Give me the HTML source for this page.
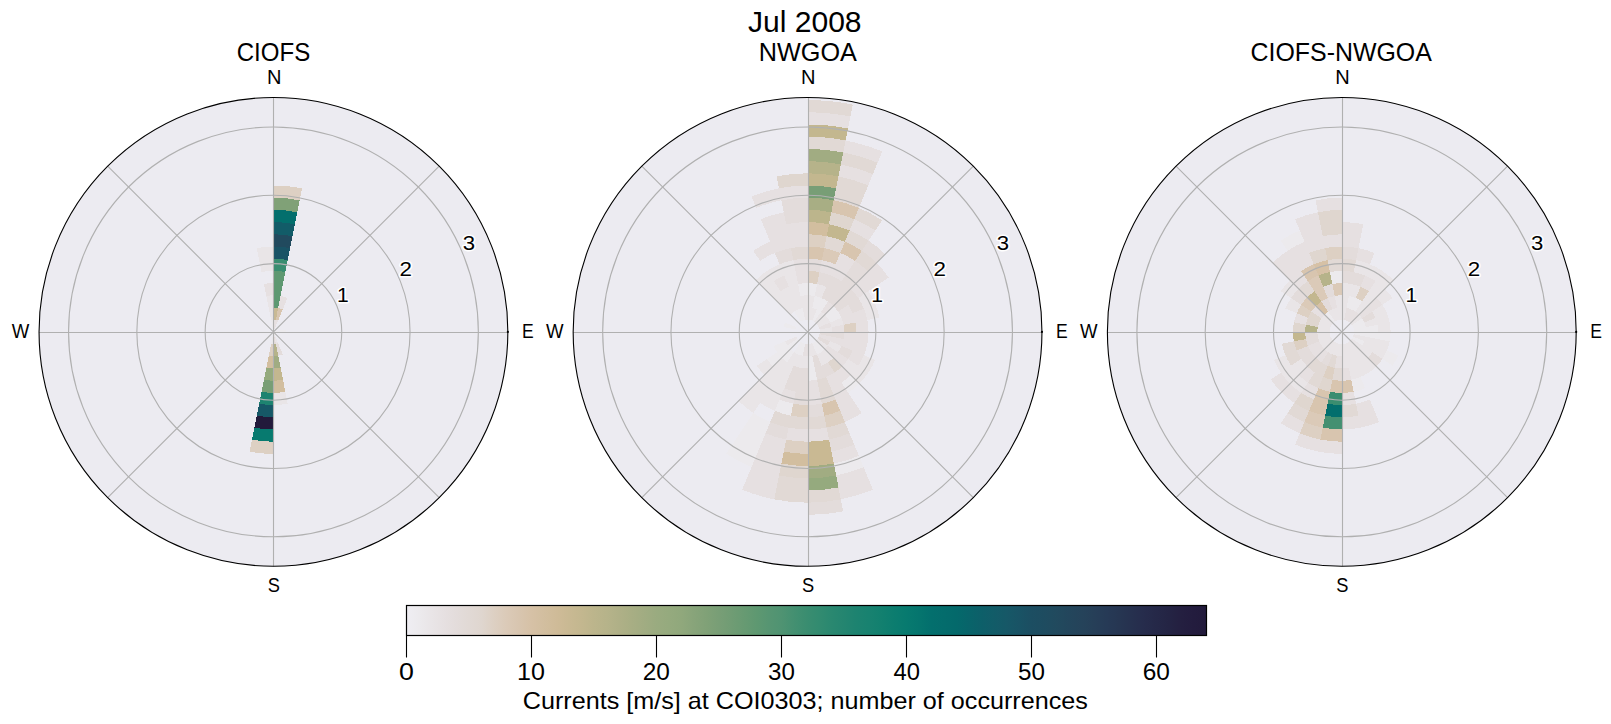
<!DOCTYPE html><html><head><meta charset="utf-8"><style>html,body{margin:0;padding:0;background:#fff;overflow:hidden}svg{display:block}</style></head><body><svg width="1611" height="724" viewBox="0 0 1611 724"><rect width="1611" height="724" fill="#fff"/><defs><clipPath id="c0"><circle cx="273.45" cy="331.9" r="234.4"/></clipPath><clipPath id="c1"><circle cx="807.56" cy="331.9" r="234.4"/></clipPath><clipPath id="c2"><circle cx="1341.8" cy="331.9" r="234.4"/></clipPath></defs><circle cx="273.45" cy="331.9" r="234.4" fill="#ecebf1"/><g clip-path="url(#c0)" shape-rendering="crispEdges"><path d="M273.45,331.90L273.45,319.70A12.20,12.20 0 0 1 275.83,319.93Z" fill="#e6e0e1"/><path d="M273.45,319.70L273.45,307.50A24.40,24.40 0 0 1 278.21,307.97L275.83,319.93A12.20,12.20 0 0 0 273.45,319.70Z" fill="#c9b993"/><path d="M273.45,307.50L273.45,295.30A36.60,36.60 0 0 1 280.59,296.00L278.21,307.97A24.40,24.40 0 0 0 273.45,307.50Z" fill="#5e9871"/><path d="M273.45,295.30L273.45,283.10A48.80,48.80 0 0 1 282.97,284.04L280.59,296.00A36.60,36.60 0 0 0 273.45,295.30Z" fill="#5e9871"/><path d="M273.45,283.10L273.45,270.90A61.00,61.00 0 0 1 285.35,272.07L282.97,284.04A48.80,48.80 0 0 0 273.45,283.10Z" fill="#5e9871"/><path d="M273.45,270.90L273.45,258.70A73.20,73.20 0 0 1 287.73,260.11L285.35,272.07A61.00,61.00 0 0 0 273.45,270.90Z" fill="#3a8d70"/><path d="M273.45,258.70L273.45,246.50A85.40,85.40 0 0 1 290.11,248.14L287.73,260.11A73.20,73.20 0 0 0 273.45,258.70Z" fill="#195365"/><path d="M273.45,246.50L273.45,234.30A97.60,97.60 0 0 1 292.49,236.18L290.11,248.14A85.40,85.40 0 0 0 273.45,246.50Z" fill="#214a5e"/><path d="M273.45,234.30L273.45,222.10A109.80,109.80 0 0 1 294.87,224.21L292.49,236.18A97.60,97.60 0 0 0 273.45,234.30Z" fill="#125c68"/><path d="M273.45,222.10L273.45,209.90A122.00,122.00 0 0 1 297.25,212.24L294.87,224.21A109.80,109.80 0 0 0 273.45,222.10Z" fill="#036f6d"/><path d="M273.45,209.90L273.45,197.70A134.20,134.20 0 0 1 299.63,200.28L297.25,212.24A122.00,122.00 0 0 0 273.45,209.90Z" fill="#80a177"/><path d="M273.45,197.70L273.45,185.50A146.40,146.40 0 0 1 302.01,188.31L299.63,200.28A134.20,134.20 0 0 0 273.45,197.70Z" fill="#ddd0c3"/><path d="M273.45,331.90L275.83,319.93A12.20,12.20 0 0 1 278.12,320.63Z" fill="#e6e0e1"/><path d="M275.83,319.93L278.21,307.97A24.40,24.40 0 0 1 282.79,309.36L278.12,320.63A12.20,12.20 0 0 0 275.83,319.93Z" fill="#d8c5af"/><path d="M278.21,307.97L280.59,296.00A36.60,36.60 0 0 1 287.46,298.09L282.79,309.36A24.40,24.40 0 0 0 278.21,307.97Z" fill="#e6e0e1"/><path d="M273.45,331.90L271.07,319.93A12.20,12.20 0 0 1 273.45,319.70Z" fill="#eceaed"/><path d="M271.07,319.93L268.69,307.97A24.40,24.40 0 0 1 273.45,307.50L273.45,319.70A12.20,12.20 0 0 0 271.07,319.93Z" fill="#e9e5e7"/><path d="M268.69,307.97L266.31,296.00A36.60,36.60 0 0 1 273.45,295.30L273.45,307.50A24.40,24.40 0 0 0 268.69,307.97Z" fill="#e9e5e7"/><path d="M266.31,296.00L263.93,284.04A48.80,48.80 0 0 1 273.45,283.10L273.45,295.30A36.60,36.60 0 0 0 266.31,296.00Z" fill="#e6e0e1"/><path d="M261.55,272.07L259.17,260.11A73.20,73.20 0 0 1 273.45,258.70L273.45,270.90A61.00,61.00 0 0 0 261.55,272.07Z" fill="#e9e5e7"/><path d="M259.17,260.11L256.79,248.14A85.40,85.40 0 0 1 273.45,246.50L273.45,258.70A73.20,73.20 0 0 0 259.17,260.11Z" fill="#e9e5e7"/><path d="M273.45,331.90L273.45,344.10A12.20,12.20 0 0 1 271.07,343.87Z" fill="#eceaed"/><path d="M273.45,344.10L273.45,356.30A24.40,24.40 0 0 1 268.69,355.83L271.07,343.87A12.20,12.20 0 0 0 273.45,344.10Z" fill="#ddd0c3"/><path d="M273.45,356.30L273.45,368.50A36.60,36.60 0 0 1 266.31,367.80L268.69,355.83A24.40,24.40 0 0 0 273.45,356.30Z" fill="#d2be9f"/><path d="M273.45,368.50L273.45,380.70A48.80,48.80 0 0 1 263.93,379.76L266.31,367.80A36.60,36.60 0 0 0 273.45,368.50Z" fill="#95aa7e"/><path d="M273.45,380.70L273.45,392.90A61.00,61.00 0 0 1 261.55,391.73L263.93,379.76A48.80,48.80 0 0 0 273.45,380.70Z" fill="#789e76"/><path d="M273.45,392.90L273.45,405.10A73.20,73.20 0 0 1 259.17,403.69L261.55,391.73A61.00,61.00 0 0 0 273.45,392.90Z" fill="#1d8370"/><path d="M273.45,405.10L273.45,417.30A85.40,85.40 0 0 1 256.79,415.66L259.17,403.69A73.20,73.20 0 0 0 273.45,405.10Z" fill="#165867"/><path d="M273.45,417.30L273.45,429.50A97.60,97.60 0 0 1 254.41,427.62L256.79,415.66A85.40,85.40 0 0 0 273.45,417.30Z" fill="#221a3b"/><path d="M273.45,429.50L273.45,441.70A109.80,109.80 0 0 1 252.03,439.59L254.41,427.62A97.60,97.60 0 0 0 273.45,429.50Z" fill="#077a6f"/><path d="M273.45,441.70L273.45,453.90A122.00,122.00 0 0 1 249.65,451.56L252.03,439.59A109.80,109.80 0 0 0 273.45,441.70Z" fill="#ddd0c3"/><path d="M273.45,331.90L275.83,343.87A12.20,12.20 0 0 1 273.45,344.10Z" fill="#e3dcdb"/><path d="M275.83,343.87L278.21,355.83A24.40,24.40 0 0 1 273.45,356.30L273.45,344.10A12.20,12.20 0 0 0 275.83,343.87Z" fill="#b6b38a"/><path d="M278.21,355.83L280.59,367.80A36.60,36.60 0 0 1 273.45,368.50L273.45,356.30A24.40,24.40 0 0 0 278.21,355.83Z" fill="#a1ac82"/><path d="M280.59,367.80L282.97,379.76A48.80,48.80 0 0 1 273.45,380.70L273.45,368.50A36.60,36.60 0 0 0 280.59,367.80Z" fill="#c3b78f"/><path d="M282.97,379.76L285.35,391.73A61.00,61.00 0 0 1 273.45,392.90L273.45,380.70A48.80,48.80 0 0 0 282.97,379.76Z" fill="#d2be9f"/><path d="M285.35,391.73L287.73,403.69A73.20,73.20 0 0 1 273.45,405.10L273.45,392.90A61.00,61.00 0 0 0 285.35,391.73Z" fill="#e9e5e7"/><path d="M273.45,331.90L278.12,343.17A12.20,12.20 0 0 1 275.83,343.87Z" fill="#e9e5e7"/><path d="M278.12,343.17L282.79,354.44A24.40,24.40 0 0 1 278.21,355.83L275.83,343.87A12.20,12.20 0 0 0 278.12,343.17Z" fill="#e3dcdb"/><path d="M273.45,331.90L285.42,329.52A12.20,12.20 0 0 1 285.65,331.90Z" fill="#eceaed"/></g><path d="M39.05,332.5H507.85M273.5,97.50V566.30M107.70,166.15L439.20,497.65M439.20,166.15L107.70,497.65" stroke="#b0b0b0" stroke-width="1.1" fill="none"/><circle cx="273.45" cy="331.9" r="68.30" stroke="#b0b0b0" stroke-width="1.1" fill="none"/><circle cx="273.45" cy="331.9" r="136.60" stroke="#b0b0b0" stroke-width="1.1" fill="none"/><circle cx="273.45" cy="331.9" r="204.90" stroke="#b0b0b0" stroke-width="1.1" fill="none"/><circle cx="273.45" cy="331.9" r="234.4" stroke="#000" stroke-width="1.1" fill="none"/><circle cx="507.85" cy="331.9" r="1.1" fill="#000"/><circle cx="807.56" cy="331.9" r="234.4" fill="#ecebf1"/><g clip-path="url(#c1)" shape-rendering="crispEdges"><path d="M807.56,258.70L807.56,246.50A85.40,85.40 0 0 1 824.22,248.14L821.84,260.11A73.20,73.20 0 0 0 807.56,258.70Z" fill="#d8c5af"/><path d="M807.56,246.50L807.56,234.30A97.60,97.60 0 0 1 826.60,236.18L824.22,248.14A85.40,85.40 0 0 0 807.56,246.50Z" fill="#ddd0c3"/><path d="M807.56,234.30L807.56,222.10A109.80,109.80 0 0 1 828.98,224.21L826.60,236.18A97.60,97.60 0 0 0 807.56,234.30Z" fill="#d2be9f"/><path d="M807.56,222.10L807.56,209.90A122.00,122.00 0 0 1 831.36,212.24L828.98,224.21A109.80,109.80 0 0 0 807.56,222.10Z" fill="#bcb58c"/><path d="M807.56,209.90L807.56,197.70A134.20,134.20 0 0 1 833.74,200.28L831.36,212.24A122.00,122.00 0 0 0 807.56,209.90Z" fill="#a8ae84"/><path d="M807.56,197.70L807.56,185.50A146.40,146.40 0 0 1 836.12,188.31L833.74,200.28A134.20,134.20 0 0 0 807.56,197.70Z" fill="#789e76"/><path d="M807.56,185.50L807.56,173.30A158.60,158.60 0 0 1 838.50,176.35L836.12,188.31A146.40,146.40 0 0 0 807.56,185.50Z" fill="#c3b78f"/><path d="M807.56,173.30L807.56,161.10A170.80,170.80 0 0 1 840.88,164.38L838.50,176.35A158.60,158.60 0 0 0 807.56,173.30Z" fill="#b6b38a"/><path d="M807.56,161.10L807.56,148.90A183.00,183.00 0 0 1 843.26,152.42L840.88,164.38A170.80,170.80 0 0 0 807.56,161.10Z" fill="#a1ac82"/><path d="M807.56,148.90L807.56,136.70A195.20,195.20 0 0 1 845.64,140.45L843.26,152.42A183.00,183.00 0 0 0 807.56,148.90Z" fill="#e1d9d5"/><path d="M807.56,136.70L807.56,124.50A207.40,207.40 0 0 1 848.02,128.49L845.64,140.45A195.20,195.20 0 0 0 807.56,136.70Z" fill="#c3b78f"/><path d="M807.56,124.50L807.56,112.30A219.60,219.60 0 0 1 850.40,116.52L848.02,128.49A207.40,207.40 0 0 0 807.56,124.50Z" fill="#e6e0e1"/><path d="M807.56,112.30L807.56,100.10A231.80,231.80 0 0 1 852.78,104.55L850.40,116.52A219.60,219.60 0 0 0 807.56,112.30Z" fill="#e1d9d5"/><path d="M807.56,331.90L807.56,319.70A12.20,12.20 0 0 1 809.94,319.93Z" fill="#eceaed"/><path d="M807.56,319.70L807.56,307.50A24.40,24.40 0 0 1 812.32,307.97L809.94,319.93A12.20,12.20 0 0 0 807.56,319.70Z" fill="#e9e5e7"/><path d="M807.56,307.50L807.56,295.30A36.60,36.60 0 0 1 814.70,296.00L812.32,307.97A24.40,24.40 0 0 0 807.56,307.50Z" fill="#e9e5e7"/><path d="M807.56,295.30L807.56,283.10A48.80,48.80 0 0 1 817.08,284.04L814.70,296.00A36.60,36.60 0 0 0 807.56,295.30Z" fill="#eceaed"/><path d="M807.56,283.10L807.56,270.90A61.00,61.00 0 0 1 819.46,272.07L817.08,284.04A48.80,48.80 0 0 0 807.56,283.10Z" fill="#ddd0c3"/><path d="M807.56,270.90L807.56,258.70A73.20,73.20 0 0 1 821.84,260.11L819.46,272.07A61.00,61.00 0 0 0 807.56,270.90Z" fill="#e3dcdb"/><path d="M821.84,260.11L824.22,248.14A85.40,85.40 0 0 1 840.24,253.00L835.57,264.27A73.20,73.20 0 0 0 821.84,260.11Z" fill="#dbcab8"/><path d="M824.22,248.14L826.60,236.18A97.60,97.60 0 0 1 844.91,241.73L840.24,253.00A85.40,85.40 0 0 0 824.22,248.14Z" fill="#e1d9d5"/><path d="M826.60,236.18L828.98,224.21A109.80,109.80 0 0 1 849.58,230.46L844.91,241.73A97.60,97.60 0 0 0 826.60,236.18Z" fill="#c3b78f"/><path d="M828.98,224.21L831.36,212.24A122.00,122.00 0 0 1 854.25,219.19L849.58,230.46A109.80,109.80 0 0 0 828.98,224.21Z" fill="#dfd6cf"/><path d="M831.36,212.24L833.74,200.28A134.20,134.20 0 0 1 858.92,207.92L854.25,219.19A122.00,122.00 0 0 0 831.36,212.24Z" fill="#d8c5af"/><path d="M833.74,200.28L836.12,188.31A146.40,146.40 0 0 1 863.58,196.64L858.92,207.92A134.20,134.20 0 0 0 833.74,200.28Z" fill="#e1d9d5"/><path d="M836.12,188.31L838.50,176.35A158.60,158.60 0 0 1 868.25,185.37L863.58,196.64A146.40,146.40 0 0 0 836.12,188.31Z" fill="#e1d9d5"/><path d="M838.50,176.35L840.88,164.38A170.80,170.80 0 0 1 872.92,174.10L868.25,185.37A158.60,158.60 0 0 0 838.50,176.35Z" fill="#e6e0e1"/><path d="M840.88,164.38L843.26,152.42A183.00,183.00 0 0 1 877.59,162.83L872.92,174.10A170.80,170.80 0 0 0 840.88,164.38Z" fill="#e1d9d5"/><path d="M843.26,152.42L845.64,140.45A195.20,195.20 0 0 1 882.26,151.56L877.59,162.83A183.00,183.00 0 0 0 843.26,152.42Z" fill="#e6e0e1"/><path d="M809.94,319.93L812.32,307.97A24.40,24.40 0 0 1 816.90,309.36L812.23,320.63A12.20,12.20 0 0 0 809.94,319.93Z" fill="#e9e5e7"/><path d="M812.32,307.97L814.70,296.00A36.60,36.60 0 0 1 821.57,298.09L816.90,309.36A24.40,24.40 0 0 0 812.32,307.97Z" fill="#eceaed"/><path d="M814.70,296.00L817.08,284.04A48.80,48.80 0 0 1 826.23,286.81L821.57,298.09A36.60,36.60 0 0 0 814.70,296.00Z" fill="#e9e5e7"/><path d="M817.08,284.04L819.46,272.07A61.00,61.00 0 0 1 830.90,275.54L826.23,286.81A48.80,48.80 0 0 0 817.08,284.04Z" fill="#e3dcdb"/><path d="M819.46,272.07L821.84,260.11A73.20,73.20 0 0 1 835.57,264.27L830.90,275.54A61.00,61.00 0 0 0 819.46,272.07Z" fill="#e6e0e1"/><path d="M835.57,264.27L840.24,253.00A85.40,85.40 0 0 1 855.01,260.89L848.23,271.04A73.20,73.20 0 0 0 835.57,264.27Z" fill="#e6e0e1"/><path d="M840.24,253.00L844.91,241.73A97.60,97.60 0 0 1 861.78,250.75L855.01,260.89A85.40,85.40 0 0 0 840.24,253.00Z" fill="#d8c5af"/><path d="M844.91,241.73L849.58,230.46A109.80,109.80 0 0 1 868.56,240.60L861.78,250.75A97.60,97.60 0 0 0 844.91,241.73Z" fill="#e1d9d5"/><path d="M849.58,230.46L854.25,219.19A122.00,122.00 0 0 1 875.34,230.46L868.56,240.60A109.80,109.80 0 0 0 849.58,230.46Z" fill="#e6e0e1"/><path d="M854.25,219.19L858.92,207.92A134.20,134.20 0 0 1 882.12,220.32L875.34,230.46A122.00,122.00 0 0 0 854.25,219.19Z" fill="#e1d9d5"/><path d="M812.23,320.63L816.90,309.36A24.40,24.40 0 0 1 821.12,311.61L814.34,321.76A12.20,12.20 0 0 0 812.23,320.63Z" fill="#eceaed"/><path d="M816.90,309.36L821.57,298.09A36.60,36.60 0 0 1 827.89,301.47L821.12,311.61A24.40,24.40 0 0 0 816.90,309.36Z" fill="#eceaed"/><path d="M821.57,298.09L826.23,286.81A48.80,48.80 0 0 1 834.67,291.32L827.89,301.47A36.60,36.60 0 0 0 821.57,298.09Z" fill="#e3dcdb"/><path d="M826.23,286.81L830.90,275.54A61.00,61.00 0 0 1 841.45,281.18L834.67,291.32A48.80,48.80 0 0 0 826.23,286.81Z" fill="#e3dcdb"/><path d="M830.90,275.54L835.57,264.27A73.20,73.20 0 0 1 848.23,271.04L841.45,281.18A61.00,61.00 0 0 0 830.90,275.54Z" fill="#e6e0e1"/><path d="M848.23,271.04L855.01,260.89A85.40,85.40 0 0 1 867.95,271.51L859.32,280.14A73.20,73.20 0 0 0 848.23,271.04Z" fill="#e3dcdb"/><path d="M855.01,260.89L861.78,250.75A97.60,97.60 0 0 1 876.57,262.89L867.95,271.51A85.40,85.40 0 0 0 855.01,260.89Z" fill="#e1d9d5"/><path d="M861.78,250.75L868.56,240.60A109.80,109.80 0 0 1 885.20,254.26L876.57,262.89A97.60,97.60 0 0 0 861.78,250.75Z" fill="#e3dcdb"/><path d="M814.34,321.76L821.12,311.61A24.40,24.40 0 0 1 824.81,314.65L816.19,323.27A12.20,12.20 0 0 0 814.34,321.76Z" fill="#e9e5e7"/><path d="M821.12,311.61L827.89,301.47A36.60,36.60 0 0 1 833.44,306.02L824.81,314.65A24.40,24.40 0 0 0 821.12,311.61Z" fill="#e6e0e1"/><path d="M827.89,301.47L834.67,291.32A48.80,48.80 0 0 1 842.07,297.39L833.44,306.02A36.60,36.60 0 0 0 827.89,301.47Z" fill="#e3dcdb"/><path d="M834.67,291.32L841.45,281.18A61.00,61.00 0 0 1 850.69,288.77L842.07,297.39A48.80,48.80 0 0 0 834.67,291.32Z" fill="#e3dcdb"/><path d="M841.45,281.18L848.23,271.04A73.20,73.20 0 0 1 859.32,280.14L850.69,288.77A61.00,61.00 0 0 0 841.45,281.18Z" fill="#e3dcdb"/><path d="M859.32,280.14L867.95,271.51A85.40,85.40 0 0 1 878.57,284.45L868.42,291.23A73.20,73.20 0 0 0 859.32,280.14Z" fill="#e6e0e1"/><path d="M867.95,271.51L876.57,262.89A97.60,97.60 0 0 1 888.71,277.68L878.57,284.45A85.40,85.40 0 0 0 867.95,271.51Z" fill="#e6e0e1"/><path d="M816.19,323.27L824.81,314.65A24.40,24.40 0 0 1 827.85,318.34L817.70,325.12A12.20,12.20 0 0 0 816.19,323.27Z" fill="#e9e5e7"/><path d="M824.81,314.65L833.44,306.02A36.60,36.60 0 0 1 837.99,311.57L827.85,318.34A24.40,24.40 0 0 0 824.81,314.65Z" fill="#eceaed"/><path d="M833.44,306.02L842.07,297.39A48.80,48.80 0 0 1 848.14,304.79L837.99,311.57A36.60,36.60 0 0 0 833.44,306.02Z" fill="#e3dcdb"/><path d="M842.07,297.39L850.69,288.77A61.00,61.00 0 0 1 858.28,298.01L848.14,304.79A48.80,48.80 0 0 0 842.07,297.39Z" fill="#e3dcdb"/><path d="M850.69,288.77L859.32,280.14A73.20,73.20 0 0 1 868.42,291.23L858.28,298.01A61.00,61.00 0 0 0 850.69,288.77Z" fill="#e6e0e1"/><path d="M817.70,325.12L827.85,318.34A24.40,24.40 0 0 1 830.10,322.56L818.83,327.23A12.20,12.20 0 0 0 817.70,325.12Z" fill="#e9e5e7"/><path d="M827.85,318.34L837.99,311.57A36.60,36.60 0 0 1 841.37,317.89L830.10,322.56A24.40,24.40 0 0 0 827.85,318.34Z" fill="#eceaed"/><path d="M837.99,311.57L848.14,304.79A48.80,48.80 0 0 1 852.65,313.23L841.37,317.89A36.60,36.60 0 0 0 837.99,311.57Z" fill="#e6e0e1"/><path d="M848.14,304.79L858.28,298.01A61.00,61.00 0 0 1 863.92,308.56L852.65,313.23A48.80,48.80 0 0 0 848.14,304.79Z" fill="#e3dcdb"/><path d="M858.28,298.01L868.42,291.23A73.20,73.20 0 0 1 875.19,303.89L863.92,308.56A61.00,61.00 0 0 0 858.28,298.01Z" fill="#e9e5e7"/><path d="M818.83,327.23L830.10,322.56A24.40,24.40 0 0 1 831.49,327.14L819.53,329.52A12.20,12.20 0 0 0 818.83,327.23Z" fill="#e6e0e1"/><path d="M830.10,322.56L841.37,317.89A36.60,36.60 0 0 1 843.46,324.76L831.49,327.14A24.40,24.40 0 0 0 830.10,322.56Z" fill="#e9e5e7"/><path d="M841.37,317.89L852.65,313.23A48.80,48.80 0 0 1 855.42,322.38L843.46,324.76A36.60,36.60 0 0 0 841.37,317.89Z" fill="#e6e0e1"/><path d="M852.65,313.23L863.92,308.56A61.00,61.00 0 0 1 867.39,320.00L855.42,322.38A48.80,48.80 0 0 0 852.65,313.23Z" fill="#e6e0e1"/><path d="M863.92,308.56L875.19,303.89A73.20,73.20 0 0 1 879.35,317.62L867.39,320.00A61.00,61.00 0 0 0 863.92,308.56Z" fill="#e9e5e7"/><path d="M819.53,329.52L831.49,327.14A24.40,24.40 0 0 1 831.96,331.90L819.76,331.90A12.20,12.20 0 0 0 819.53,329.52Z" fill="#e9e5e7"/><path d="M831.49,327.14L843.46,324.76A36.60,36.60 0 0 1 844.16,331.90L831.96,331.90A24.40,24.40 0 0 0 831.49,327.14Z" fill="#e6e0e1"/><path d="M843.46,324.76L855.42,322.38A48.80,48.80 0 0 1 856.36,331.90L844.16,331.90A36.60,36.60 0 0 0 843.46,324.76Z" fill="#ddd0c3"/><path d="M855.42,322.38L867.39,320.00A61.00,61.00 0 0 1 868.56,331.90L856.36,331.90A48.80,48.80 0 0 0 855.42,322.38Z" fill="#e6e0e1"/><path d="M819.76,331.90L831.96,331.90A24.40,24.40 0 0 1 831.49,336.66L819.53,334.28A12.20,12.20 0 0 0 819.76,331.90Z" fill="#e3dcdb"/><path d="M831.96,331.90L844.16,331.90A36.60,36.60 0 0 1 843.46,339.04L831.49,336.66A24.40,24.40 0 0 0 831.96,331.90Z" fill="#e3dcdb"/><path d="M844.16,331.90L856.36,331.90A48.80,48.80 0 0 1 855.42,341.42L843.46,339.04A36.60,36.60 0 0 0 844.16,331.90Z" fill="#e6e0e1"/><path d="M856.36,331.90L868.56,331.90A61.00,61.00 0 0 1 867.39,343.80L855.42,341.42A48.80,48.80 0 0 0 856.36,331.90Z" fill="#e6e0e1"/><path d="M819.53,334.28L831.49,336.66A24.40,24.40 0 0 1 830.10,341.24L818.83,336.57A12.20,12.20 0 0 0 819.53,334.28Z" fill="#e6e0e1"/><path d="M831.49,336.66L843.46,339.04A36.60,36.60 0 0 1 841.37,345.91L830.10,341.24A24.40,24.40 0 0 0 831.49,336.66Z" fill="#e6e0e1"/><path d="M843.46,339.04L855.42,341.42A48.80,48.80 0 0 1 852.65,350.57L841.37,345.91A36.60,36.60 0 0 0 843.46,339.04Z" fill="#e6e0e1"/><path d="M855.42,341.42L867.39,343.80A61.00,61.00 0 0 1 863.92,355.24L852.65,350.57A48.80,48.80 0 0 0 855.42,341.42Z" fill="#e6e0e1"/><path d="M818.83,336.57L830.10,341.24A24.40,24.40 0 0 1 827.85,345.46L817.70,338.68A12.20,12.20 0 0 0 818.83,336.57Z" fill="#e3dcdb"/><path d="M830.10,341.24L841.37,345.91A36.60,36.60 0 0 1 837.99,352.23L827.85,345.46A24.40,24.40 0 0 0 830.10,341.24Z" fill="#e9e5e7"/><path d="M841.37,345.91L852.65,350.57A48.80,48.80 0 0 1 848.14,359.01L837.99,352.23A36.60,36.60 0 0 0 841.37,345.91Z" fill="#e3dcdb"/><path d="M852.65,350.57L863.92,355.24A61.00,61.00 0 0 1 858.28,365.79L848.14,359.01A48.80,48.80 0 0 0 852.65,350.57Z" fill="#e6e0e1"/><path d="M863.92,355.24L875.19,359.91A73.20,73.20 0 0 1 868.42,372.57L858.28,365.79A61.00,61.00 0 0 0 863.92,355.24Z" fill="#e9e5e7"/><path d="M817.70,338.68L827.85,345.46A24.40,24.40 0 0 1 824.81,349.15L816.19,340.53A12.20,12.20 0 0 0 817.70,338.68Z" fill="#e9e5e7"/><path d="M827.85,345.46L837.99,352.23A36.60,36.60 0 0 1 833.44,357.78L824.81,349.15A24.40,24.40 0 0 0 827.85,345.46Z" fill="#e6e0e1"/><path d="M837.99,352.23L848.14,359.01A48.80,48.80 0 0 1 842.07,366.41L833.44,357.78A36.60,36.60 0 0 0 837.99,352.23Z" fill="#e6e0e1"/><path d="M848.14,359.01L858.28,365.79A61.00,61.00 0 0 1 850.69,375.03L842.07,366.41A48.80,48.80 0 0 0 848.14,359.01Z" fill="#e9e5e7"/><path d="M858.28,365.79L868.42,372.57A73.20,73.20 0 0 1 859.32,383.66L850.69,375.03A61.00,61.00 0 0 0 858.28,365.79Z" fill="#e9e5e7"/><path d="M816.19,340.53L824.81,349.15A24.40,24.40 0 0 1 821.12,352.19L814.34,342.04A12.20,12.20 0 0 0 816.19,340.53Z" fill="#eceaed"/><path d="M824.81,349.15L833.44,357.78A36.60,36.60 0 0 1 827.89,362.33L821.12,352.19A24.40,24.40 0 0 0 824.81,349.15Z" fill="#e9e5e7"/><path d="M833.44,357.78L842.07,366.41A48.80,48.80 0 0 1 834.67,372.48L827.89,362.33A36.60,36.60 0 0 0 833.44,357.78Z" fill="#dfd6cf"/><path d="M842.07,366.41L850.69,375.03A61.00,61.00 0 0 1 841.45,382.62L834.67,372.48A48.80,48.80 0 0 0 842.07,366.41Z" fill="#e6e0e1"/><path d="M850.69,375.03L859.32,383.66A73.20,73.20 0 0 1 848.23,392.76L841.45,382.62A61.00,61.00 0 0 0 850.69,375.03Z" fill="#eceaed"/><path d="M848.23,392.76L855.01,402.91A85.40,85.40 0 0 1 840.24,410.80L835.57,399.53A73.20,73.20 0 0 0 848.23,392.76Z" fill="#e6e0e1"/><path d="M855.01,402.91L861.78,413.05A97.60,97.60 0 0 1 844.91,422.07L840.24,410.80A85.40,85.40 0 0 0 855.01,402.91Z" fill="#e6e0e1"/><path d="M814.34,342.04L821.12,352.19A24.40,24.40 0 0 1 816.90,354.44L812.23,343.17A12.20,12.20 0 0 0 814.34,342.04Z" fill="#eceaed"/><path d="M821.12,352.19L827.89,362.33A36.60,36.60 0 0 1 821.57,365.71L816.90,354.44A24.40,24.40 0 0 0 821.12,352.19Z" fill="#e9e5e7"/><path d="M827.89,362.33L834.67,372.48A48.80,48.80 0 0 1 826.23,376.99L821.57,365.71A36.60,36.60 0 0 0 827.89,362.33Z" fill="#e3dcdb"/><path d="M834.67,372.48L841.45,382.62A61.00,61.00 0 0 1 830.90,388.26L826.23,376.99A48.80,48.80 0 0 0 834.67,372.48Z" fill="#e6e0e1"/><path d="M841.45,382.62L848.23,392.76A73.20,73.20 0 0 1 835.57,399.53L830.90,388.26A61.00,61.00 0 0 0 841.45,382.62Z" fill="#e6e0e1"/><path d="M835.57,399.53L840.24,410.80A85.40,85.40 0 0 1 824.22,415.66L821.84,403.69A73.20,73.20 0 0 0 835.57,399.53Z" fill="#d8c5af"/><path d="M840.24,410.80L844.91,422.07A97.60,97.60 0 0 1 826.60,427.62L824.22,415.66A85.40,85.40 0 0 0 840.24,410.80Z" fill="#ddd0c3"/><path d="M844.91,422.07L849.58,433.34A109.80,109.80 0 0 1 828.98,439.59L826.60,427.62A97.60,97.60 0 0 0 844.91,422.07Z" fill="#e1d9d5"/><path d="M849.58,433.34L854.25,444.61A122.00,122.00 0 0 1 831.36,451.56L828.98,439.59A109.80,109.80 0 0 0 849.58,433.34Z" fill="#e3dcdb"/><path d="M854.25,444.61L858.92,455.88A134.20,134.20 0 0 1 833.74,463.52L831.36,451.56A122.00,122.00 0 0 0 854.25,444.61Z" fill="#e6e0e1"/><path d="M858.92,455.88L863.58,467.16A146.40,146.40 0 0 1 836.12,475.49L833.74,463.52A134.20,134.20 0 0 0 858.92,455.88Z" fill="#eceaed"/><path d="M863.58,467.16L868.25,478.43A158.60,158.60 0 0 1 838.50,487.45L836.12,475.49A146.40,146.40 0 0 0 863.58,467.16Z" fill="#e6e0e1"/><path d="M868.25,478.43L872.92,489.70A170.80,170.80 0 0 1 840.88,499.42L838.50,487.45A158.60,158.60 0 0 0 868.25,478.43Z" fill="#e6e0e1"/><path d="M812.23,343.17L816.90,354.44A24.40,24.40 0 0 1 812.32,355.83L809.94,343.87A12.20,12.20 0 0 0 812.23,343.17Z" fill="#e9e5e7"/><path d="M816.90,354.44L821.57,365.71A36.60,36.60 0 0 1 814.70,367.80L812.32,355.83A24.40,24.40 0 0 0 816.90,354.44Z" fill="#e3dcdb"/><path d="M821.57,365.71L826.23,376.99A48.80,48.80 0 0 1 817.08,379.76L814.70,367.80A36.60,36.60 0 0 0 821.57,365.71Z" fill="#e3dcdb"/><path d="M826.23,376.99L830.90,388.26A61.00,61.00 0 0 1 819.46,391.73L817.08,379.76A48.80,48.80 0 0 0 826.23,376.99Z" fill="#e1d9d5"/><path d="M830.90,388.26L835.57,399.53A73.20,73.20 0 0 1 821.84,403.69L819.46,391.73A61.00,61.00 0 0 0 830.90,388.26Z" fill="#e1d9d5"/><path d="M821.84,403.69L824.22,415.66A85.40,85.40 0 0 1 807.56,417.30L807.56,405.10A73.20,73.20 0 0 0 821.84,403.69Z" fill="#e3dcdb"/><path d="M824.22,415.66L826.60,427.62A97.60,97.60 0 0 1 807.56,429.50L807.56,417.30A85.40,85.40 0 0 0 824.22,415.66Z" fill="#e1d9d5"/><path d="M826.60,427.62L828.98,439.59A109.80,109.80 0 0 1 807.56,441.70L807.56,429.50A97.60,97.60 0 0 0 826.60,427.62Z" fill="#e6e0e1"/><path d="M828.98,439.59L831.36,451.56A122.00,122.00 0 0 1 807.56,453.90L807.56,441.70A109.80,109.80 0 0 0 828.98,439.59Z" fill="#c9b993"/><path d="M831.36,451.56L833.74,463.52A134.20,134.20 0 0 1 807.56,466.10L807.56,453.90A122.00,122.00 0 0 0 831.36,451.56Z" fill="#c9b993"/><path d="M833.74,463.52L836.12,475.49A146.40,146.40 0 0 1 807.56,478.30L807.56,466.10A134.20,134.20 0 0 0 833.74,463.52Z" fill="#a1ac82"/><path d="M836.12,475.49L838.50,487.45A158.60,158.60 0 0 1 807.56,490.50L807.56,478.30A146.40,146.40 0 0 0 836.12,475.49Z" fill="#95aa7e"/><path d="M838.50,487.45L840.88,499.42A170.80,170.80 0 0 1 807.56,502.70L807.56,490.50A158.60,158.60 0 0 0 838.50,487.45Z" fill="#e1d9d5"/><path d="M840.88,499.42L843.26,511.38A183.00,183.00 0 0 1 807.56,514.90L807.56,502.70A170.80,170.80 0 0 0 840.88,499.42Z" fill="#e3dcdb"/><path d="M809.94,343.87L812.32,355.83A24.40,24.40 0 0 1 807.56,356.30L807.56,344.10A12.20,12.20 0 0 0 809.94,343.87Z" fill="#e9e5e7"/><path d="M812.32,355.83L814.70,367.80A36.60,36.60 0 0 1 807.56,368.50L807.56,356.30A24.40,24.40 0 0 0 812.32,355.83Z" fill="#eceaed"/><path d="M814.70,367.80L817.08,379.76A48.80,48.80 0 0 1 807.56,380.70L807.56,368.50A36.60,36.60 0 0 0 814.70,367.80Z" fill="#eceaed"/><path d="M817.08,379.76L819.46,391.73A61.00,61.00 0 0 1 807.56,392.90L807.56,380.70A48.80,48.80 0 0 0 817.08,379.76Z" fill="#e6e0e1"/><path d="M819.46,391.73L821.84,403.69A73.20,73.20 0 0 1 807.56,405.10L807.56,392.90A61.00,61.00 0 0 0 819.46,391.73Z" fill="#e6e0e1"/><path d="M807.56,405.10L807.56,417.30A85.40,85.40 0 0 1 790.90,415.66L793.28,403.69A73.20,73.20 0 0 0 807.56,405.10Z" fill="#ddd0c3"/><path d="M807.56,417.30L807.56,429.50A97.60,97.60 0 0 1 788.52,427.62L790.90,415.66A85.40,85.40 0 0 0 807.56,417.30Z" fill="#e1d9d5"/><path d="M807.56,429.50L807.56,441.70A109.80,109.80 0 0 1 786.14,439.59L788.52,427.62A97.60,97.60 0 0 0 807.56,429.50Z" fill="#e6e0e1"/><path d="M807.56,441.70L807.56,453.90A122.00,122.00 0 0 1 783.76,451.56L786.14,439.59A109.80,109.80 0 0 0 807.56,441.70Z" fill="#ddd0c3"/><path d="M807.56,453.90L807.56,466.10A134.20,134.20 0 0 1 781.38,463.52L783.76,451.56A122.00,122.00 0 0 0 807.56,453.90Z" fill="#d2be9f"/><path d="M807.56,466.10L807.56,478.30A146.40,146.40 0 0 1 779.00,475.49L781.38,463.52A134.20,134.20 0 0 0 807.56,466.10Z" fill="#dfd6cf"/><path d="M807.56,478.30L807.56,490.50A158.60,158.60 0 0 1 776.62,487.45L779.00,475.49A146.40,146.40 0 0 0 807.56,478.30Z" fill="#e1d9d5"/><path d="M807.56,490.50L807.56,502.70A170.80,170.80 0 0 1 774.24,499.42L776.62,487.45A158.60,158.60 0 0 0 807.56,490.50Z" fill="#e1d9d5"/><path d="M807.56,344.10L807.56,356.30A24.40,24.40 0 0 1 802.80,355.83L805.18,343.87A12.20,12.20 0 0 0 807.56,344.10Z" fill="#e6e0e1"/><path d="M807.56,356.30L807.56,368.50A36.60,36.60 0 0 1 800.42,367.80L802.80,355.83A24.40,24.40 0 0 0 807.56,356.30Z" fill="#e9e5e7"/><path d="M807.56,368.50L807.56,380.70A48.80,48.80 0 0 1 798.04,379.76L800.42,367.80A36.60,36.60 0 0 0 807.56,368.50Z" fill="#e3dcdb"/><path d="M807.56,380.70L807.56,392.90A61.00,61.00 0 0 1 795.66,391.73L798.04,379.76A48.80,48.80 0 0 0 807.56,380.70Z" fill="#e3dcdb"/><path d="M807.56,392.90L807.56,405.10A73.20,73.20 0 0 1 793.28,403.69L795.66,391.73A61.00,61.00 0 0 0 807.56,392.90Z" fill="#e3dcdb"/><path d="M793.28,403.69L790.90,415.66A85.40,85.40 0 0 1 774.88,410.80L779.55,399.53A73.20,73.20 0 0 0 793.28,403.69Z" fill="#eceaed"/><path d="M790.90,415.66L788.52,427.62A97.60,97.60 0 0 1 770.21,422.07L774.88,410.80A85.40,85.40 0 0 0 790.90,415.66Z" fill="#e1d9d5"/><path d="M788.52,427.62L786.14,439.59A109.80,109.80 0 0 1 765.54,433.34L770.21,422.07A97.60,97.60 0 0 0 788.52,427.62Z" fill="#e3dcdb"/><path d="M786.14,439.59L783.76,451.56A122.00,122.00 0 0 1 760.87,444.61L765.54,433.34A109.80,109.80 0 0 0 786.14,439.59Z" fill="#e6e0e1"/><path d="M783.76,451.56L781.38,463.52A134.20,134.20 0 0 1 756.20,455.88L760.87,444.61A122.00,122.00 0 0 0 783.76,451.56Z" fill="#e6e0e1"/><path d="M781.38,463.52L779.00,475.49A146.40,146.40 0 0 1 751.54,467.16L756.20,455.88A134.20,134.20 0 0 0 781.38,463.52Z" fill="#e6e0e1"/><path d="M779.00,475.49L776.62,487.45A158.60,158.60 0 0 1 746.87,478.43L751.54,467.16A146.40,146.40 0 0 0 779.00,475.49Z" fill="#e6e0e1"/><path d="M776.62,487.45L774.24,499.42A170.80,170.80 0 0 1 742.20,489.70L746.87,478.43A158.60,158.60 0 0 0 776.62,487.45Z" fill="#e6e0e1"/><path d="M805.18,343.87L802.80,355.83A24.40,24.40 0 0 1 798.22,354.44L802.89,343.17A12.20,12.20 0 0 0 805.18,343.87Z" fill="#eceaed"/><path d="M802.80,355.83L800.42,367.80A36.60,36.60 0 0 1 793.55,365.71L798.22,354.44A24.40,24.40 0 0 0 802.80,355.83Z" fill="#e9e5e7"/><path d="M800.42,367.80L798.04,379.76A48.80,48.80 0 0 1 788.89,376.99L793.55,365.71A36.60,36.60 0 0 0 800.42,367.80Z" fill="#e3dcdb"/><path d="M798.04,379.76L795.66,391.73A61.00,61.00 0 0 1 784.22,388.26L788.89,376.99A48.80,48.80 0 0 0 798.04,379.76Z" fill="#e3dcdb"/><path d="M795.66,391.73L793.28,403.69A73.20,73.20 0 0 1 779.55,399.53L784.22,388.26A61.00,61.00 0 0 0 795.66,391.73Z" fill="#e6e0e1"/><path d="M779.55,399.53L774.88,410.80A85.40,85.40 0 0 1 760.11,402.91L766.89,392.76A73.20,73.20 0 0 0 779.55,399.53Z" fill="#e9e5e7"/><path d="M770.21,422.07L765.54,433.34A109.80,109.80 0 0 1 746.56,423.20L753.34,413.05A97.60,97.60 0 0 0 770.21,422.07Z" fill="#eceaed"/><path d="M765.54,433.34L760.87,444.61A122.00,122.00 0 0 1 739.78,433.34L746.56,423.20A109.80,109.80 0 0 0 765.54,433.34Z" fill="#eceaed"/><path d="M760.87,444.61L756.20,455.88A134.20,134.20 0 0 1 733.00,443.48L739.78,433.34A122.00,122.00 0 0 0 760.87,444.61Z" fill="#eceaed"/><path d="M756.20,455.88L751.54,467.16A146.40,146.40 0 0 1 726.22,453.63L733.00,443.48A134.20,134.20 0 0 0 756.20,455.88Z" fill="#eceaed"/><path d="M802.89,343.17L798.22,354.44A24.40,24.40 0 0 1 794.00,352.19L800.78,342.04A12.20,12.20 0 0 0 802.89,343.17Z" fill="#eceaed"/><path d="M798.22,354.44L793.55,365.71A36.60,36.60 0 0 1 787.23,362.33L794.00,352.19A24.40,24.40 0 0 0 798.22,354.44Z" fill="#e9e5e7"/><path d="M793.55,365.71L788.89,376.99A48.80,48.80 0 0 1 780.45,372.48L787.23,362.33A36.60,36.60 0 0 0 793.55,365.71Z" fill="#e9e5e7"/><path d="M788.89,376.99L784.22,388.26A61.00,61.00 0 0 1 773.67,382.62L780.45,372.48A48.80,48.80 0 0 0 788.89,376.99Z" fill="#e9e5e7"/><path d="M784.22,388.26L779.55,399.53A73.20,73.20 0 0 1 766.89,392.76L773.67,382.62A61.00,61.00 0 0 0 784.22,388.26Z" fill="#e9e5e7"/><path d="M766.89,392.76L760.11,402.91A85.40,85.40 0 0 1 747.17,392.29L755.80,383.66A73.20,73.20 0 0 0 766.89,392.76Z" fill="#e9e5e7"/><path d="M760.11,402.91L753.34,413.05A97.60,97.60 0 0 1 738.55,400.91L747.17,392.29A85.40,85.40 0 0 0 760.11,402.91Z" fill="#e9e5e7"/><path d="M794.00,352.19L787.23,362.33A36.60,36.60 0 0 1 781.68,357.78L790.31,349.15A24.40,24.40 0 0 0 794.00,352.19Z" fill="#eceaed"/><path d="M787.23,362.33L780.45,372.48A48.80,48.80 0 0 1 773.05,366.41L781.68,357.78A36.60,36.60 0 0 0 787.23,362.33Z" fill="#e9e5e7"/><path d="M780.45,372.48L773.67,382.62A61.00,61.00 0 0 1 764.43,375.03L773.05,366.41A48.80,48.80 0 0 0 780.45,372.48Z" fill="#e9e5e7"/><path d="M773.67,382.62L766.89,392.76A73.20,73.20 0 0 1 755.80,383.66L764.43,375.03A61.00,61.00 0 0 0 773.67,382.62Z" fill="#e9e5e7"/><path d="M798.93,340.53L790.31,349.15A24.40,24.40 0 0 1 787.27,345.46L797.42,338.68A12.20,12.20 0 0 0 798.93,340.53Z" fill="#eceaed"/><path d="M790.31,349.15L781.68,357.78A36.60,36.60 0 0 1 777.13,352.23L787.27,345.46A24.40,24.40 0 0 0 790.31,349.15Z" fill="#eceaed"/><path d="M781.68,357.78L773.05,366.41A48.80,48.80 0 0 1 766.98,359.01L777.13,352.23A36.60,36.60 0 0 0 781.68,357.78Z" fill="#eceaed"/><path d="M773.05,366.41L764.43,375.03A61.00,61.00 0 0 1 756.84,365.79L766.98,359.01A48.80,48.80 0 0 0 773.05,366.41Z" fill="#e9e5e7"/><path d="M797.42,338.68L787.27,345.46A24.40,24.40 0 0 1 785.02,341.24L796.29,336.57A12.20,12.20 0 0 0 797.42,338.68Z" fill="#e9e5e7"/><path d="M787.27,345.46L777.13,352.23A36.60,36.60 0 0 1 773.75,345.91L785.02,341.24A24.40,24.40 0 0 0 787.27,345.46Z" fill="#eceaed"/><path d="M760.11,260.89L753.34,250.75A97.60,97.60 0 0 1 770.21,241.73L774.88,253.00A85.40,85.40 0 0 0 760.11,260.89Z" fill="#e6e0e1"/><path d="M800.78,321.76L794.00,311.61A24.40,24.40 0 0 1 798.22,309.36L802.89,320.63A12.20,12.20 0 0 0 800.78,321.76Z" fill="#eceaed"/><path d="M794.00,311.61L787.23,301.47A36.60,36.60 0 0 1 793.55,298.09L798.22,309.36A24.40,24.40 0 0 0 794.00,311.61Z" fill="#e9e5e7"/><path d="M787.23,301.47L780.45,291.32A48.80,48.80 0 0 1 788.89,286.81L793.55,298.09A36.60,36.60 0 0 0 787.23,301.47Z" fill="#e9e5e7"/><path d="M780.45,291.32L773.67,281.18A61.00,61.00 0 0 1 784.22,275.54L788.89,286.81A48.80,48.80 0 0 0 780.45,291.32Z" fill="#e6e0e1"/><path d="M773.67,281.18L766.89,271.04A73.20,73.20 0 0 1 779.55,264.27L784.22,275.54A61.00,61.00 0 0 0 773.67,281.18Z" fill="#e9e5e7"/><path d="M779.55,264.27L774.88,253.00A85.40,85.40 0 0 1 790.90,248.14L793.28,260.11A73.20,73.20 0 0 0 779.55,264.27Z" fill="#e3dcdb"/><path d="M774.88,253.00L770.21,241.73A97.60,97.60 0 0 1 788.52,236.18L790.90,248.14A85.40,85.40 0 0 0 774.88,253.00Z" fill="#e6e0e1"/><path d="M770.21,241.73L765.54,230.46A109.80,109.80 0 0 1 786.14,224.21L788.52,236.18A97.60,97.60 0 0 0 770.21,241.73Z" fill="#e6e0e1"/><path d="M765.54,230.46L760.87,219.19A122.00,122.00 0 0 1 783.76,212.24L786.14,224.21A109.80,109.80 0 0 0 765.54,230.46Z" fill="#e6e0e1"/><path d="M756.20,207.92L751.54,196.64A146.40,146.40 0 0 1 779.00,188.31L781.38,200.28A134.20,134.20 0 0 0 756.20,207.92Z" fill="#e6e0e1"/><path d="M802.89,320.63L798.22,309.36A24.40,24.40 0 0 1 802.80,307.97L805.18,319.93A12.20,12.20 0 0 0 802.89,320.63Z" fill="#eceaed"/><path d="M798.22,309.36L793.55,298.09A36.60,36.60 0 0 1 800.42,296.00L802.80,307.97A24.40,24.40 0 0 0 798.22,309.36Z" fill="#e9e5e7"/><path d="M793.55,298.09L788.89,286.81A48.80,48.80 0 0 1 798.04,284.04L800.42,296.00A36.60,36.60 0 0 0 793.55,298.09Z" fill="#e9e5e7"/><path d="M788.89,286.81L784.22,275.54A61.00,61.00 0 0 1 795.66,272.07L798.04,284.04A48.80,48.80 0 0 0 788.89,286.81Z" fill="#e9e5e7"/><path d="M784.22,275.54L779.55,264.27A73.20,73.20 0 0 1 793.28,260.11L795.66,272.07A61.00,61.00 0 0 0 784.22,275.54Z" fill="#e9e5e7"/><path d="M793.28,260.11L790.90,248.14A85.40,85.40 0 0 1 807.56,246.50L807.56,258.70A73.20,73.20 0 0 0 793.28,260.11Z" fill="#e1d9d5"/><path d="M790.90,248.14L788.52,236.18A97.60,97.60 0 0 1 807.56,234.30L807.56,246.50A85.40,85.40 0 0 0 790.90,248.14Z" fill="#e6e0e1"/><path d="M788.52,236.18L786.14,224.21A109.80,109.80 0 0 1 807.56,222.10L807.56,234.30A97.60,97.60 0 0 0 788.52,236.18Z" fill="#e6e0e1"/><path d="M786.14,224.21L783.76,212.24A122.00,122.00 0 0 1 807.56,209.90L807.56,222.10A109.80,109.80 0 0 0 786.14,224.21Z" fill="#e3dcdb"/><path d="M783.76,212.24L781.38,200.28A134.20,134.20 0 0 1 807.56,197.70L807.56,209.90A122.00,122.00 0 0 0 783.76,212.24Z" fill="#e3dcdb"/><path d="M781.38,200.28L779.00,188.31A146.40,146.40 0 0 1 807.56,185.50L807.56,197.70A134.20,134.20 0 0 0 781.38,200.28Z" fill="#e6e0e1"/><path d="M779.00,188.31L776.62,176.35A158.60,158.60 0 0 1 807.56,173.30L807.56,185.50A146.40,146.40 0 0 0 779.00,188.31Z" fill="#dfd6cf"/><path d="M805.18,319.93L802.80,307.97A24.40,24.40 0 0 1 807.56,307.50L807.56,319.70A12.20,12.20 0 0 0 805.18,319.93Z" fill="#e9e5e7"/><path d="M802.80,307.97L800.42,296.00A36.60,36.60 0 0 1 807.56,295.30L807.56,307.50A24.40,24.40 0 0 0 802.80,307.97Z" fill="#e9e5e7"/><path d="M800.42,296.00L798.04,284.04A48.80,48.80 0 0 1 807.56,283.10L807.56,295.30A36.60,36.60 0 0 0 800.42,296.00Z" fill="#eceaed"/><path d="M798.04,284.04L795.66,272.07A61.00,61.00 0 0 1 807.56,270.90L807.56,283.10A48.80,48.80 0 0 0 798.04,284.04Z" fill="#e6e0e1"/><path d="M795.66,272.07L793.28,260.11A73.20,73.20 0 0 1 807.56,258.70L807.56,270.90A61.00,61.00 0 0 0 795.66,272.07Z" fill="#e6e0e1"/><path d="M795.59,329.52L783.63,327.14A24.40,24.40 0 0 1 785.02,322.56L796.29,327.23A12.20,12.20 0 0 0 795.59,329.52Z" fill="#eceaed"/><path d="M790.31,314.65L781.68,306.02A36.60,36.60 0 0 1 787.23,301.47L794.00,311.61A24.40,24.40 0 0 0 790.31,314.65Z" fill="#e9e5e7"/><path d="M781.68,306.02L773.05,297.39A48.80,48.80 0 0 1 780.45,291.32L787.23,301.47A36.60,36.60 0 0 0 781.68,306.02Z" fill="#e9e5e7"/><path d="M773.05,297.39L764.43,288.77A61.00,61.00 0 0 1 773.67,281.18L780.45,291.32A48.80,48.80 0 0 0 773.05,297.39Z" fill="#e9e5e7"/><path d="M764.43,288.77L755.80,280.14A73.20,73.20 0 0 1 766.89,271.04L773.67,281.18A61.00,61.00 0 0 0 764.43,288.77Z" fill="#e9e5e7"/></g><path d="M573.16,332.5H1041.96M808.5,97.50V566.30M641.81,166.15L973.31,497.65M973.31,166.15L641.81,497.65" stroke="#b0b0b0" stroke-width="1.1" fill="none"/><circle cx="807.56" cy="331.9" r="68.30" stroke="#b0b0b0" stroke-width="1.1" fill="none"/><circle cx="807.56" cy="331.9" r="136.60" stroke="#b0b0b0" stroke-width="1.1" fill="none"/><circle cx="807.56" cy="331.9" r="204.90" stroke="#b0b0b0" stroke-width="1.1" fill="none"/><circle cx="807.56" cy="331.9" r="234.4" stroke="#000" stroke-width="1.1" fill="none"/><circle cx="1041.96" cy="331.9" r="1.1" fill="#000"/><circle cx="1341.8" cy="331.9" r="234.4" fill="#ecebf1"/><g clip-path="url(#c2)" shape-rendering="crispEdges"><path d="M1341.80,258.70L1341.80,246.50A85.40,85.40 0 0 1 1358.46,248.14L1356.08,260.11A73.20,73.20 0 0 0 1341.80,258.70Z" fill="#e3dcdb"/><path d="M1341.80,246.50L1341.80,234.30A97.60,97.60 0 0 1 1360.84,236.18L1358.46,248.14A85.40,85.40 0 0 0 1341.80,246.50Z" fill="#e6e0e1"/><path d="M1341.80,234.30L1341.80,222.10A109.80,109.80 0 0 1 1363.22,224.21L1360.84,236.18A97.60,97.60 0 0 0 1341.80,234.30Z" fill="#e6e0e1"/><path d="M1341.80,319.70L1341.80,307.50A24.40,24.40 0 0 1 1346.56,307.97L1344.18,319.93A12.20,12.20 0 0 0 1341.80,319.70Z" fill="#e9e5e7"/><path d="M1341.80,307.50L1341.80,295.30A36.60,36.60 0 0 1 1348.94,296.00L1346.56,307.97A24.40,24.40 0 0 0 1341.80,307.50Z" fill="#e9e5e7"/><path d="M1341.80,295.30L1341.80,283.10A48.80,48.80 0 0 1 1351.32,284.04L1348.94,296.00A36.60,36.60 0 0 0 1341.80,295.30Z" fill="#e9e5e7"/><path d="M1341.80,283.10L1341.80,270.90A61.00,61.00 0 0 1 1353.70,272.07L1351.32,284.04A48.80,48.80 0 0 0 1341.80,283.10Z" fill="#e3dcdb"/><path d="M1341.80,270.90L1341.80,258.70A73.20,73.20 0 0 1 1356.08,260.11L1353.70,272.07A61.00,61.00 0 0 0 1341.80,270.90Z" fill="#e1d9d5"/><path d="M1356.08,260.11L1358.46,248.14A85.40,85.40 0 0 1 1374.48,253.00L1369.81,264.27A73.20,73.20 0 0 0 1356.08,260.11Z" fill="#e6e0e1"/><path d="M1344.18,319.93L1346.56,307.97A24.40,24.40 0 0 1 1351.14,309.36L1346.47,320.63A12.20,12.20 0 0 0 1344.18,319.93Z" fill="#e6e0e1"/><path d="M1346.56,307.97L1348.94,296.00A36.60,36.60 0 0 1 1355.81,298.09L1351.14,309.36A24.40,24.40 0 0 0 1346.56,307.97Z" fill="#eceaed"/><path d="M1348.94,296.00L1351.32,284.04A48.80,48.80 0 0 1 1360.47,286.81L1355.81,298.09A36.60,36.60 0 0 0 1348.94,296.00Z" fill="#e9e5e7"/><path d="M1351.32,284.04L1353.70,272.07A61.00,61.00 0 0 1 1365.14,275.54L1360.47,286.81A48.80,48.80 0 0 0 1351.32,284.04Z" fill="#e3dcdb"/><path d="M1353.70,272.07L1356.08,260.11A73.20,73.20 0 0 1 1369.81,264.27L1365.14,275.54A61.00,61.00 0 0 0 1353.70,272.07Z" fill="#e9e5e7"/><path d="M1346.47,320.63L1351.14,309.36A24.40,24.40 0 0 1 1355.36,311.61L1348.58,321.76A12.20,12.20 0 0 0 1346.47,320.63Z" fill="#e6e0e1"/><path d="M1351.14,309.36L1355.81,298.09A36.60,36.60 0 0 1 1362.13,301.47L1355.36,311.61A24.40,24.40 0 0 0 1351.14,309.36Z" fill="#eceaed"/><path d="M1355.81,298.09L1360.47,286.81A48.80,48.80 0 0 1 1368.91,291.32L1362.13,301.47A36.60,36.60 0 0 0 1355.81,298.09Z" fill="#ddd0c3"/><path d="M1360.47,286.81L1365.14,275.54A61.00,61.00 0 0 1 1375.69,281.18L1368.91,291.32A48.80,48.80 0 0 0 1360.47,286.81Z" fill="#e6e0e1"/><path d="M1365.14,275.54L1369.81,264.27A73.20,73.20 0 0 1 1382.47,271.04L1375.69,281.18A61.00,61.00 0 0 0 1365.14,275.54Z" fill="#e9e5e7"/><path d="M1348.58,321.76L1355.36,311.61A24.40,24.40 0 0 1 1359.05,314.65L1350.43,323.27A12.20,12.20 0 0 0 1348.58,321.76Z" fill="#e6e0e1"/><path d="M1355.36,311.61L1362.13,301.47A36.60,36.60 0 0 1 1367.68,306.02L1359.05,314.65A24.40,24.40 0 0 0 1355.36,311.61Z" fill="#e9e5e7"/><path d="M1362.13,301.47L1368.91,291.32A48.80,48.80 0 0 1 1376.31,297.39L1367.68,306.02A36.60,36.60 0 0 0 1362.13,301.47Z" fill="#e9e5e7"/><path d="M1368.91,291.32L1375.69,281.18A61.00,61.00 0 0 1 1384.93,288.77L1376.31,297.39A48.80,48.80 0 0 0 1368.91,291.32Z" fill="#e9e5e7"/><path d="M1375.69,281.18L1382.47,271.04A73.20,73.20 0 0 1 1393.56,280.14L1384.93,288.77A61.00,61.00 0 0 0 1375.69,281.18Z" fill="#e9e5e7"/><path d="M1350.43,323.27L1359.05,314.65A24.40,24.40 0 0 1 1362.09,318.34L1351.94,325.12A12.20,12.20 0 0 0 1350.43,323.27Z" fill="#e9e5e7"/><path d="M1359.05,314.65L1367.68,306.02A36.60,36.60 0 0 1 1372.23,311.57L1362.09,318.34A24.40,24.40 0 0 0 1359.05,314.65Z" fill="#e6e0e1"/><path d="M1367.68,306.02L1376.31,297.39A48.80,48.80 0 0 1 1382.38,304.79L1372.23,311.57A36.60,36.60 0 0 0 1367.68,306.02Z" fill="#e6e0e1"/><path d="M1376.31,297.39L1384.93,288.77A61.00,61.00 0 0 1 1392.52,298.01L1382.38,304.79A48.80,48.80 0 0 0 1376.31,297.39Z" fill="#e9e5e7"/><path d="M1351.94,325.12L1362.09,318.34A24.40,24.40 0 0 1 1364.34,322.56L1353.07,327.23A12.20,12.20 0 0 0 1351.94,325.12Z" fill="#eceaed"/><path d="M1362.09,318.34L1372.23,311.57A36.60,36.60 0 0 1 1375.61,317.89L1364.34,322.56A24.40,24.40 0 0 0 1362.09,318.34Z" fill="#e3dcdb"/><path d="M1372.23,311.57L1382.38,304.79A48.80,48.80 0 0 1 1386.89,313.23L1375.61,317.89A36.60,36.60 0 0 0 1372.23,311.57Z" fill="#e9e5e7"/><path d="M1353.07,327.23L1364.34,322.56A24.40,24.40 0 0 1 1365.73,327.14L1353.77,329.52A12.20,12.20 0 0 0 1353.07,327.23Z" fill="#eceaed"/><path d="M1364.34,322.56L1375.61,317.89A36.60,36.60 0 0 1 1377.70,324.76L1365.73,327.14A24.40,24.40 0 0 0 1364.34,322.56Z" fill="#e9e5e7"/><path d="M1375.61,317.89L1386.89,313.23A48.80,48.80 0 0 1 1389.66,322.38L1377.70,324.76A36.60,36.60 0 0 0 1375.61,317.89Z" fill="#e9e5e7"/><path d="M1353.77,329.52L1365.73,327.14A24.40,24.40 0 0 1 1366.20,331.90L1354.00,331.90A12.20,12.20 0 0 0 1353.77,329.52Z" fill="#eceaed"/><path d="M1365.73,327.14L1377.70,324.76A36.60,36.60 0 0 1 1378.40,331.90L1366.20,331.90A24.40,24.40 0 0 0 1365.73,327.14Z" fill="#eceaed"/><path d="M1377.70,324.76L1389.66,322.38A48.80,48.80 0 0 1 1390.60,331.90L1378.40,331.90A36.60,36.60 0 0 0 1377.70,324.76Z" fill="#e9e5e7"/><path d="M1354.00,331.90L1366.20,331.90A24.40,24.40 0 0 1 1365.73,336.66L1353.77,334.28A12.20,12.20 0 0 0 1354.00,331.90Z" fill="#eceaed"/><path d="M1366.20,331.90L1378.40,331.90A36.60,36.60 0 0 1 1377.70,339.04L1365.73,336.66A24.40,24.40 0 0 0 1366.20,331.90Z" fill="#eceaed"/><path d="M1378.40,331.90L1390.60,331.90A48.80,48.80 0 0 1 1389.66,341.42L1377.70,339.04A36.60,36.60 0 0 0 1378.40,331.90Z" fill="#eceaed"/><path d="M1353.77,334.28L1365.73,336.66A24.40,24.40 0 0 1 1364.34,341.24L1353.07,336.57A12.20,12.20 0 0 0 1353.77,334.28Z" fill="#e9e5e7"/><path d="M1365.73,336.66L1377.70,339.04A36.60,36.60 0 0 1 1375.61,345.91L1364.34,341.24A24.40,24.40 0 0 0 1365.73,336.66Z" fill="#e9e5e7"/><path d="M1377.70,339.04L1389.66,341.42A48.80,48.80 0 0 1 1386.89,350.57L1375.61,345.91A36.60,36.60 0 0 0 1377.70,339.04Z" fill="#e9e5e7"/><path d="M1353.07,336.57L1364.34,341.24A24.40,24.40 0 0 1 1362.09,345.46L1351.94,338.68A12.20,12.20 0 0 0 1353.07,336.57Z" fill="#eceaed"/><path d="M1364.34,341.24L1375.61,345.91A36.60,36.60 0 0 1 1372.23,352.23L1362.09,345.46A24.40,24.40 0 0 0 1364.34,341.24Z" fill="#e9e5e7"/><path d="M1375.61,345.91L1386.89,350.57A48.80,48.80 0 0 1 1382.38,359.01L1372.23,352.23A36.60,36.60 0 0 0 1375.61,345.91Z" fill="#e9e5e7"/><path d="M1386.89,350.57L1398.16,355.24A61.00,61.00 0 0 1 1392.52,365.79L1382.38,359.01A48.80,48.80 0 0 0 1386.89,350.57Z" fill="#eceaed"/><path d="M1351.94,338.68L1362.09,345.46A24.40,24.40 0 0 1 1359.05,349.15L1350.43,340.53A12.20,12.20 0 0 0 1351.94,338.68Z" fill="#e9e5e7"/><path d="M1362.09,345.46L1372.23,352.23A36.60,36.60 0 0 1 1367.68,357.78L1359.05,349.15A24.40,24.40 0 0 0 1362.09,345.46Z" fill="#e9e5e7"/><path d="M1372.23,352.23L1382.38,359.01A48.80,48.80 0 0 1 1376.31,366.41L1367.68,357.78A36.60,36.60 0 0 0 1372.23,352.23Z" fill="#e3dcdb"/><path d="M1350.43,340.53L1359.05,349.15A24.40,24.40 0 0 1 1355.36,352.19L1348.58,342.04A12.20,12.20 0 0 0 1350.43,340.53Z" fill="#e9e5e7"/><path d="M1359.05,349.15L1367.68,357.78A36.60,36.60 0 0 1 1362.13,362.33L1355.36,352.19A24.40,24.40 0 0 0 1359.05,349.15Z" fill="#e9e5e7"/><path d="M1367.68,357.78L1376.31,366.41A48.80,48.80 0 0 1 1368.91,372.48L1362.13,362.33A36.60,36.60 0 0 0 1367.68,357.78Z" fill="#e9e5e7"/><path d="M1348.58,342.04L1355.36,352.19A24.40,24.40 0 0 1 1351.14,354.44L1346.47,343.17A12.20,12.20 0 0 0 1348.58,342.04Z" fill="#e9e5e7"/><path d="M1355.36,352.19L1362.13,362.33A36.60,36.60 0 0 1 1355.81,365.71L1351.14,354.44A24.40,24.40 0 0 0 1355.36,352.19Z" fill="#e9e5e7"/><path d="M1362.13,362.33L1368.91,372.48A48.80,48.80 0 0 1 1360.47,376.99L1355.81,365.71A36.60,36.60 0 0 0 1362.13,362.33Z" fill="#e9e5e7"/><path d="M1369.81,399.53L1374.48,410.80A85.40,85.40 0 0 1 1358.46,415.66L1356.08,403.69A73.20,73.20 0 0 0 1369.81,399.53Z" fill="#e6e0e1"/><path d="M1374.48,410.80L1379.15,422.07A97.60,97.60 0 0 1 1360.84,427.62L1358.46,415.66A85.40,85.40 0 0 0 1374.48,410.80Z" fill="#e6e0e1"/><path d="M1346.47,343.17L1351.14,354.44A24.40,24.40 0 0 1 1346.56,355.83L1344.18,343.87A12.20,12.20 0 0 0 1346.47,343.17Z" fill="#e9e5e7"/><path d="M1351.14,354.44L1355.81,365.71A36.60,36.60 0 0 1 1348.94,367.80L1346.56,355.83A24.40,24.40 0 0 0 1351.14,354.44Z" fill="#e9e5e7"/><path d="M1355.81,365.71L1360.47,376.99A48.80,48.80 0 0 1 1351.32,379.76L1348.94,367.80A36.60,36.60 0 0 0 1355.81,365.71Z" fill="#e9e5e7"/><path d="M1360.47,376.99L1365.14,388.26A61.00,61.00 0 0 1 1353.70,391.73L1351.32,379.76A48.80,48.80 0 0 0 1360.47,376.99Z" fill="#eceaed"/><path d="M1356.08,403.69L1358.46,415.66A85.40,85.40 0 0 1 1341.80,417.30L1341.80,405.10A73.20,73.20 0 0 0 1356.08,403.69Z" fill="#e1d9d5"/><path d="M1358.46,415.66L1360.84,427.62A97.60,97.60 0 0 1 1341.80,429.50L1341.80,417.30A85.40,85.40 0 0 0 1358.46,415.66Z" fill="#e6e0e1"/><path d="M1344.18,343.87L1346.56,355.83A24.40,24.40 0 0 1 1341.80,356.30L1341.80,344.10A12.20,12.20 0 0 0 1344.18,343.87Z" fill="#e9e5e7"/><path d="M1346.56,355.83L1348.94,367.80A36.60,36.60 0 0 1 1341.80,368.50L1341.80,356.30A24.40,24.40 0 0 0 1346.56,355.83Z" fill="#e9e5e7"/><path d="M1348.94,367.80L1351.32,379.76A48.80,48.80 0 0 1 1341.80,380.70L1341.80,368.50A36.60,36.60 0 0 0 1348.94,367.80Z" fill="#e6e0e1"/><path d="M1351.32,379.76L1353.70,391.73A61.00,61.00 0 0 1 1341.80,392.90L1341.80,380.70A48.80,48.80 0 0 0 1351.32,379.76Z" fill="#d8c5af"/><path d="M1353.70,391.73L1356.08,403.69A73.20,73.20 0 0 1 1341.80,405.10L1341.80,392.90A61.00,61.00 0 0 0 1353.70,391.73Z" fill="#e6e0e1"/><path d="M1341.80,405.10L1341.80,417.30A85.40,85.40 0 0 1 1325.14,415.66L1327.52,403.69A73.20,73.20 0 0 0 1341.80,405.10Z" fill="#036f6d"/><path d="M1341.80,417.30L1341.80,429.50A97.60,97.60 0 0 1 1322.76,427.62L1325.14,415.66A85.40,85.40 0 0 0 1341.80,417.30Z" fill="#449071"/><path d="M1341.80,429.50L1341.80,441.70A109.80,109.80 0 0 1 1320.38,439.59L1322.76,427.62A97.60,97.60 0 0 0 1341.80,429.50Z" fill="#d8c5af"/><path d="M1341.80,441.70L1341.80,453.90A122.00,122.00 0 0 1 1318.00,451.56L1320.38,439.59A109.80,109.80 0 0 0 1341.80,441.70Z" fill="#e6e0e1"/><path d="M1341.80,344.10L1341.80,356.30A24.40,24.40 0 0 1 1337.04,355.83L1339.42,343.87A12.20,12.20 0 0 0 1341.80,344.10Z" fill="#e9e5e7"/><path d="M1341.80,356.30L1341.80,368.50A36.60,36.60 0 0 1 1334.66,367.80L1337.04,355.83A24.40,24.40 0 0 0 1341.80,356.30Z" fill="#e6e0e1"/><path d="M1341.80,368.50L1341.80,380.70A48.80,48.80 0 0 1 1332.28,379.76L1334.66,367.80A36.60,36.60 0 0 0 1341.80,368.50Z" fill="#e1d9d5"/><path d="M1341.80,380.70L1341.80,392.90A61.00,61.00 0 0 1 1329.90,391.73L1332.28,379.76A48.80,48.80 0 0 0 1341.80,380.70Z" fill="#d8c5af"/><path d="M1341.80,392.90L1341.80,405.10A73.20,73.20 0 0 1 1327.52,403.69L1329.90,391.73A61.00,61.00 0 0 0 1341.80,392.90Z" fill="#3a8d70"/><path d="M1327.52,403.69L1325.14,415.66A85.40,85.40 0 0 1 1309.12,410.80L1313.79,399.53A73.20,73.20 0 0 0 1327.52,403.69Z" fill="#d8c5af"/><path d="M1325.14,415.66L1322.76,427.62A97.60,97.60 0 0 1 1304.45,422.07L1309.12,410.80A85.40,85.40 0 0 0 1325.14,415.66Z" fill="#dbcab8"/><path d="M1322.76,427.62L1320.38,439.59A109.80,109.80 0 0 1 1299.78,433.34L1304.45,422.07A97.60,97.60 0 0 0 1322.76,427.62Z" fill="#ddd0c3"/><path d="M1320.38,439.59L1318.00,451.56A122.00,122.00 0 0 1 1295.11,444.61L1299.78,433.34A109.80,109.80 0 0 0 1320.38,439.59Z" fill="#e6e0e1"/><path d="M1339.42,343.87L1337.04,355.83A24.40,24.40 0 0 1 1332.46,354.44L1337.13,343.17A12.20,12.20 0 0 0 1339.42,343.87Z" fill="#e9e5e7"/><path d="M1337.04,355.83L1334.66,367.80A36.60,36.60 0 0 1 1327.79,365.71L1332.46,354.44A24.40,24.40 0 0 0 1337.04,355.83Z" fill="#e1d9d5"/><path d="M1334.66,367.80L1332.28,379.76A48.80,48.80 0 0 1 1323.13,376.99L1327.79,365.71A36.60,36.60 0 0 0 1334.66,367.80Z" fill="#ddd0c3"/><path d="M1332.28,379.76L1329.90,391.73A61.00,61.00 0 0 1 1318.46,388.26L1323.13,376.99A48.80,48.80 0 0 0 1332.28,379.76Z" fill="#dfd6cf"/><path d="M1329.90,391.73L1327.52,403.69A73.20,73.20 0 0 1 1313.79,399.53L1318.46,388.26A61.00,61.00 0 0 0 1329.90,391.73Z" fill="#d8c5af"/><path d="M1313.79,399.53L1309.12,410.80A85.40,85.40 0 0 1 1294.35,402.91L1301.13,392.76A73.20,73.20 0 0 0 1313.79,399.53Z" fill="#dfd6cf"/><path d="M1309.12,410.80L1304.45,422.07A97.60,97.60 0 0 1 1287.58,413.05L1294.35,402.91A85.40,85.40 0 0 0 1309.12,410.80Z" fill="#e1d9d5"/><path d="M1304.45,422.07L1299.78,433.34A109.80,109.80 0 0 1 1280.80,423.20L1287.58,413.05A97.60,97.60 0 0 0 1304.45,422.07Z" fill="#e6e0e1"/><path d="M1337.13,343.17L1332.46,354.44A24.40,24.40 0 0 1 1328.24,352.19L1335.02,342.04A12.20,12.20 0 0 0 1337.13,343.17Z" fill="#e9e5e7"/><path d="M1332.46,354.44L1327.79,365.71A36.60,36.60 0 0 1 1321.47,362.33L1328.24,352.19A24.40,24.40 0 0 0 1332.46,354.44Z" fill="#e3dcdb"/><path d="M1327.79,365.71L1323.13,376.99A48.80,48.80 0 0 1 1314.69,372.48L1321.47,362.33A36.60,36.60 0 0 0 1327.79,365.71Z" fill="#e1d9d5"/><path d="M1323.13,376.99L1318.46,388.26A61.00,61.00 0 0 1 1307.91,382.62L1314.69,372.48A48.80,48.80 0 0 0 1323.13,376.99Z" fill="#e1d9d5"/><path d="M1318.46,388.26L1313.79,399.53A73.20,73.20 0 0 1 1301.13,392.76L1307.91,382.62A61.00,61.00 0 0 0 1318.46,388.26Z" fill="#e6e0e1"/><path d="M1301.13,392.76L1294.35,402.91A85.40,85.40 0 0 1 1281.41,392.29L1290.04,383.66A73.20,73.20 0 0 0 1301.13,392.76Z" fill="#e6e0e1"/><path d="M1335.02,342.04L1328.24,352.19A24.40,24.40 0 0 1 1324.55,349.15L1333.17,340.53A12.20,12.20 0 0 0 1335.02,342.04Z" fill="#e9e5e7"/><path d="M1328.24,352.19L1321.47,362.33A36.60,36.60 0 0 1 1315.92,357.78L1324.55,349.15A24.40,24.40 0 0 0 1328.24,352.19Z" fill="#e6e0e1"/><path d="M1321.47,362.33L1314.69,372.48A48.80,48.80 0 0 1 1307.29,366.41L1315.92,357.78A36.60,36.60 0 0 0 1321.47,362.33Z" fill="#e1d9d5"/><path d="M1314.69,372.48L1307.91,382.62A61.00,61.00 0 0 1 1298.67,375.03L1307.29,366.41A48.80,48.80 0 0 0 1314.69,372.48Z" fill="#e6e0e1"/><path d="M1307.91,382.62L1301.13,392.76A73.20,73.20 0 0 1 1290.04,383.66L1298.67,375.03A61.00,61.00 0 0 0 1307.91,382.62Z" fill="#e9e5e7"/><path d="M1333.17,340.53L1324.55,349.15A24.40,24.40 0 0 1 1321.51,345.46L1331.66,338.68A12.20,12.20 0 0 0 1333.17,340.53Z" fill="#e9e5e7"/><path d="M1324.55,349.15L1315.92,357.78A36.60,36.60 0 0 1 1311.37,352.23L1321.51,345.46A24.40,24.40 0 0 0 1324.55,349.15Z" fill="#e6e0e1"/><path d="M1315.92,357.78L1307.29,366.41A48.80,48.80 0 0 1 1301.22,359.01L1311.37,352.23A36.60,36.60 0 0 0 1315.92,357.78Z" fill="#e3dcdb"/><path d="M1307.29,366.41L1298.67,375.03A61.00,61.00 0 0 1 1291.08,365.79L1301.22,359.01A48.80,48.80 0 0 0 1307.29,366.41Z" fill="#e9e5e7"/><path d="M1298.67,375.03L1290.04,383.66A73.20,73.20 0 0 1 1280.94,372.57L1291.08,365.79A61.00,61.00 0 0 0 1298.67,375.03Z" fill="#e9e5e7"/><path d="M1290.04,383.66L1281.41,392.29A85.40,85.40 0 0 1 1270.79,379.35L1280.94,372.57A73.20,73.20 0 0 0 1290.04,383.66Z" fill="#e6e0e1"/><path d="M1331.66,338.68L1321.51,345.46A24.40,24.40 0 0 1 1319.26,341.24L1330.53,336.57A12.20,12.20 0 0 0 1331.66,338.68Z" fill="#e9e5e7"/><path d="M1321.51,345.46L1311.37,352.23A36.60,36.60 0 0 1 1307.99,345.91L1319.26,341.24A24.40,24.40 0 0 0 1321.51,345.46Z" fill="#e6e0e1"/><path d="M1311.37,352.23L1301.22,359.01A48.80,48.80 0 0 1 1296.71,350.57L1307.99,345.91A36.60,36.60 0 0 0 1311.37,352.23Z" fill="#e3dcdb"/><path d="M1301.22,359.01L1291.08,365.79A61.00,61.00 0 0 1 1285.44,355.24L1296.71,350.57A48.80,48.80 0 0 0 1301.22,359.01Z" fill="#e1d9d5"/><path d="M1291.08,365.79L1280.94,372.57A73.20,73.20 0 0 1 1274.17,359.91L1285.44,355.24A61.00,61.00 0 0 0 1291.08,365.79Z" fill="#e9e5e7"/><path d="M1330.53,336.57L1319.26,341.24A24.40,24.40 0 0 1 1317.87,336.66L1329.83,334.28A12.20,12.20 0 0 0 1330.53,336.57Z" fill="#e9e5e7"/><path d="M1319.26,341.24L1307.99,345.91A36.60,36.60 0 0 1 1305.90,339.04L1317.87,336.66A24.40,24.40 0 0 0 1319.26,341.24Z" fill="#e3dcdb"/><path d="M1307.99,345.91L1296.71,350.57A48.80,48.80 0 0 1 1293.94,341.42L1305.90,339.04A36.60,36.60 0 0 0 1307.99,345.91Z" fill="#ddd0c3"/><path d="M1296.71,350.57L1285.44,355.24A61.00,61.00 0 0 1 1281.97,343.80L1293.94,341.42A48.80,48.80 0 0 0 1296.71,350.57Z" fill="#e1d9d5"/><path d="M1329.83,334.28L1317.87,336.66A24.40,24.40 0 0 1 1317.40,331.90L1329.60,331.90A12.20,12.20 0 0 0 1329.83,334.28Z" fill="#e9e5e7"/><path d="M1317.87,336.66L1305.90,339.04A36.60,36.60 0 0 1 1305.20,331.90L1317.40,331.90A24.40,24.40 0 0 0 1317.87,336.66Z" fill="#e3dcdb"/><path d="M1305.90,339.04L1293.94,341.42A48.80,48.80 0 0 1 1293.00,331.90L1305.20,331.90A36.60,36.60 0 0 0 1305.90,339.04Z" fill="#c3b78f"/><path d="M1329.60,331.90L1317.40,331.90A24.40,24.40 0 0 1 1317.87,327.14L1329.83,329.52A12.20,12.20 0 0 0 1329.60,331.90Z" fill="#e9e5e7"/><path d="M1317.40,331.90L1305.20,331.90A36.60,36.60 0 0 1 1305.90,324.76L1317.87,327.14A24.40,24.40 0 0 0 1317.40,331.90Z" fill="#b6b38a"/><path d="M1305.20,331.90L1293.00,331.90A48.80,48.80 0 0 1 1293.94,322.38L1305.90,324.76A36.60,36.60 0 0 0 1305.20,331.90Z" fill="#dfd6cf"/><path d="M1329.83,329.52L1317.87,327.14A24.40,24.40 0 0 1 1319.26,322.56L1330.53,327.23A12.20,12.20 0 0 0 1329.83,329.52Z" fill="#e9e5e7"/><path d="M1317.87,327.14L1305.90,324.76A36.60,36.60 0 0 1 1307.99,317.89L1319.26,322.56A24.40,24.40 0 0 0 1317.87,327.14Z" fill="#dfd6cf"/><path d="M1305.90,324.76L1293.94,322.38A48.80,48.80 0 0 1 1296.71,313.23L1307.99,317.89A36.60,36.60 0 0 0 1305.90,324.76Z" fill="#e6e0e1"/><path d="M1330.53,327.23L1319.26,322.56A24.40,24.40 0 0 1 1321.51,318.34L1331.66,325.12A12.20,12.20 0 0 0 1330.53,327.23Z" fill="#e9e5e7"/><path d="M1319.26,322.56L1307.99,317.89A36.60,36.60 0 0 1 1311.37,311.57L1321.51,318.34A24.40,24.40 0 0 0 1319.26,322.56Z" fill="#dfd6cf"/><path d="M1307.99,317.89L1296.71,313.23A48.80,48.80 0 0 1 1301.22,304.79L1311.37,311.57A36.60,36.60 0 0 0 1307.99,317.89Z" fill="#ddd0c3"/><path d="M1296.71,313.23L1285.44,308.56A61.00,61.00 0 0 1 1291.08,298.01L1301.22,304.79A48.80,48.80 0 0 0 1296.71,313.23Z" fill="#e9e5e7"/><path d="M1331.66,325.12L1321.51,318.34A24.40,24.40 0 0 1 1324.55,314.65L1333.17,323.27A12.20,12.20 0 0 0 1331.66,325.12Z" fill="#e9e5e7"/><path d="M1321.51,318.34L1311.37,311.57A36.60,36.60 0 0 1 1315.92,306.02L1324.55,314.65A24.40,24.40 0 0 0 1321.51,318.34Z" fill="#e6e0e1"/><path d="M1311.37,311.57L1301.22,304.79A48.80,48.80 0 0 1 1307.29,297.39L1315.92,306.02A36.60,36.60 0 0 0 1311.37,311.57Z" fill="#dbcab8"/><path d="M1301.22,304.79L1291.08,298.01A61.00,61.00 0 0 1 1298.67,288.77L1307.29,297.39A48.80,48.80 0 0 0 1301.22,304.79Z" fill="#e3dcdb"/><path d="M1291.08,298.01L1280.94,291.23A73.20,73.20 0 0 1 1290.04,280.14L1298.67,288.77A61.00,61.00 0 0 0 1291.08,298.01Z" fill="#e9e5e7"/><path d="M1290.04,280.14L1281.41,271.51A85.40,85.40 0 0 1 1294.35,260.89L1301.13,271.04A73.20,73.20 0 0 0 1290.04,280.14Z" fill="#e6e0e1"/><path d="M1281.41,271.51L1272.79,262.89A97.60,97.60 0 0 1 1287.58,250.75L1294.35,260.89A85.40,85.40 0 0 0 1281.41,271.51Z" fill="#e6e0e1"/><path d="M1333.17,323.27L1324.55,314.65A24.40,24.40 0 0 1 1328.24,311.61L1335.02,321.76A12.20,12.20 0 0 0 1333.17,323.27Z" fill="#eceaed"/><path d="M1324.55,314.65L1315.92,306.02A36.60,36.60 0 0 1 1321.47,301.47L1328.24,311.61A24.40,24.40 0 0 0 1324.55,314.65Z" fill="#d6c1a6"/><path d="M1315.92,306.02L1307.29,297.39A48.80,48.80 0 0 1 1314.69,291.32L1321.47,301.47A36.60,36.60 0 0 0 1315.92,306.02Z" fill="#c3b78f"/><path d="M1307.29,297.39L1298.67,288.77A61.00,61.00 0 0 1 1307.91,281.18L1314.69,291.32A48.80,48.80 0 0 0 1307.29,297.39Z" fill="#e1d9d5"/><path d="M1298.67,288.77L1290.04,280.14A73.20,73.20 0 0 1 1301.13,271.04L1307.91,281.18A61.00,61.00 0 0 0 1298.67,288.77Z" fill="#e6e0e1"/><path d="M1301.13,271.04L1294.35,260.89A85.40,85.40 0 0 1 1309.12,253.00L1313.79,264.27A73.20,73.20 0 0 0 1301.13,271.04Z" fill="#e6e0e1"/><path d="M1294.35,260.89L1287.58,250.75A97.60,97.60 0 0 1 1304.45,241.73L1309.12,253.00A85.40,85.40 0 0 0 1294.35,260.89Z" fill="#e6e0e1"/><path d="M1287.58,250.75L1280.80,240.60A109.80,109.80 0 0 1 1299.78,230.46L1304.45,241.73A97.60,97.60 0 0 0 1287.58,250.75Z" fill="#eceaed"/><path d="M1335.02,321.76L1328.24,311.61A24.40,24.40 0 0 1 1332.46,309.36L1337.13,320.63A12.20,12.20 0 0 0 1335.02,321.76Z" fill="#e9e5e7"/><path d="M1328.24,311.61L1321.47,301.47A36.60,36.60 0 0 1 1327.79,298.09L1332.46,309.36A24.40,24.40 0 0 0 1328.24,311.61Z" fill="#e3dcdb"/><path d="M1321.47,301.47L1314.69,291.32A48.80,48.80 0 0 1 1323.13,286.81L1327.79,298.09A36.60,36.60 0 0 0 1321.47,301.47Z" fill="#dbcab8"/><path d="M1314.69,291.32L1307.91,281.18A61.00,61.00 0 0 1 1318.46,275.54L1323.13,286.81A48.80,48.80 0 0 0 1314.69,291.32Z" fill="#dbcab8"/><path d="M1307.91,281.18L1301.13,271.04A73.20,73.20 0 0 1 1313.79,264.27L1318.46,275.54A61.00,61.00 0 0 0 1307.91,281.18Z" fill="#d8c5af"/><path d="M1313.79,264.27L1309.12,253.00A85.40,85.40 0 0 1 1325.14,248.14L1327.52,260.11A73.20,73.20 0 0 0 1313.79,264.27Z" fill="#dfd6cf"/><path d="M1309.12,253.00L1304.45,241.73A97.60,97.60 0 0 1 1322.76,236.18L1325.14,248.14A85.40,85.40 0 0 0 1309.12,253.00Z" fill="#e6e0e1"/><path d="M1304.45,241.73L1299.78,230.46A109.80,109.80 0 0 1 1320.38,224.21L1322.76,236.18A97.60,97.60 0 0 0 1304.45,241.73Z" fill="#e6e0e1"/><path d="M1299.78,230.46L1295.11,219.19A122.00,122.00 0 0 1 1318.00,212.24L1320.38,224.21A109.80,109.80 0 0 0 1299.78,230.46Z" fill="#e6e0e1"/><path d="M1337.13,320.63L1332.46,309.36A24.40,24.40 0 0 1 1337.04,307.97L1339.42,319.93A12.20,12.20 0 0 0 1337.13,320.63Z" fill="#e9e5e7"/><path d="M1332.46,309.36L1327.79,298.09A36.60,36.60 0 0 1 1334.66,296.00L1337.04,307.97A24.40,24.40 0 0 0 1332.46,309.36Z" fill="#e6e0e1"/><path d="M1327.79,298.09L1323.13,286.81A48.80,48.80 0 0 1 1332.28,284.04L1334.66,296.00A36.60,36.60 0 0 0 1327.79,298.09Z" fill="#e3dcdb"/><path d="M1323.13,286.81L1318.46,275.54A61.00,61.00 0 0 1 1329.90,272.07L1332.28,284.04A48.80,48.80 0 0 0 1323.13,286.81Z" fill="#b6b38a"/><path d="M1318.46,275.54L1313.79,264.27A73.20,73.20 0 0 1 1327.52,260.11L1329.90,272.07A61.00,61.00 0 0 0 1318.46,275.54Z" fill="#d6c1a6"/><path d="M1327.52,260.11L1325.14,248.14A85.40,85.40 0 0 1 1341.80,246.50L1341.80,258.70A73.20,73.20 0 0 0 1327.52,260.11Z" fill="#ddd0c3"/><path d="M1325.14,248.14L1322.76,236.18A97.60,97.60 0 0 1 1341.80,234.30L1341.80,246.50A85.40,85.40 0 0 0 1325.14,248.14Z" fill="#e6e0e1"/><path d="M1322.76,236.18L1320.38,224.21A109.80,109.80 0 0 1 1341.80,222.10L1341.80,234.30A97.60,97.60 0 0 0 1322.76,236.18Z" fill="#dfd6cf"/><path d="M1320.38,224.21L1318.00,212.24A122.00,122.00 0 0 1 1341.80,209.90L1341.80,222.10A109.80,109.80 0 0 0 1320.38,224.21Z" fill="#dfd6cf"/><path d="M1318.00,212.24L1315.62,200.28A134.20,134.20 0 0 1 1341.80,197.70L1341.80,209.90A122.00,122.00 0 0 0 1318.00,212.24Z" fill="#e6e0e1"/><path d="M1339.42,319.93L1337.04,307.97A24.40,24.40 0 0 1 1341.80,307.50L1341.80,319.70A12.20,12.20 0 0 0 1339.42,319.93Z" fill="#e9e5e7"/><path d="M1337.04,307.97L1334.66,296.00A36.60,36.60 0 0 1 1341.80,295.30L1341.80,307.50A24.40,24.40 0 0 0 1337.04,307.97Z" fill="#e9e5e7"/><path d="M1334.66,296.00L1332.28,284.04A48.80,48.80 0 0 1 1341.80,283.10L1341.80,295.30A36.60,36.60 0 0 0 1334.66,296.00Z" fill="#dbcab8"/><path d="M1332.28,284.04L1329.90,272.07A61.00,61.00 0 0 1 1341.80,270.90L1341.80,283.10A48.80,48.80 0 0 0 1332.28,284.04Z" fill="#eceaed"/><path d="M1329.90,272.07L1327.52,260.11A73.20,73.20 0 0 1 1341.80,258.70L1341.80,270.90A61.00,61.00 0 0 0 1329.90,272.07Z" fill="#e1d9d5"/></g><path d="M1107.40,332.5H1576.20M1342.5,97.50V566.30M1176.05,166.15L1507.55,497.65M1507.55,166.15L1176.05,497.65" stroke="#b0b0b0" stroke-width="1.1" fill="none"/><circle cx="1341.8" cy="331.9" r="68.30" stroke="#b0b0b0" stroke-width="1.1" fill="none"/><circle cx="1341.8" cy="331.9" r="136.60" stroke="#b0b0b0" stroke-width="1.1" fill="none"/><circle cx="1341.8" cy="331.9" r="204.90" stroke="#b0b0b0" stroke-width="1.1" fill="none"/><circle cx="1341.8" cy="331.9" r="234.4" stroke="#000" stroke-width="1.1" fill="none"/><circle cx="1576.20" cy="331.9" r="1.1" fill="#000"/><defs><linearGradient id="cb" x1="0" x2="1" y1="0" y2="0"><stop offset="0.000" stop-color="#efeef3"/><stop offset="0.016" stop-color="#eceaed"/><stop offset="0.031" stop-color="#e9e5e7"/><stop offset="0.047" stop-color="#e6e0e1"/><stop offset="0.062" stop-color="#e3dcdb"/><stop offset="0.078" stop-color="#e1d9d5"/><stop offset="0.094" stop-color="#dfd6cf"/><stop offset="0.109" stop-color="#ddd0c3"/><stop offset="0.125" stop-color="#dbcab8"/><stop offset="0.141" stop-color="#d8c5af"/><stop offset="0.156" stop-color="#d6c1a6"/><stop offset="0.172" stop-color="#d2be9f"/><stop offset="0.188" stop-color="#cfbb98"/><stop offset="0.203" stop-color="#c9b993"/><stop offset="0.219" stop-color="#c3b78f"/><stop offset="0.234" stop-color="#bcb58c"/><stop offset="0.250" stop-color="#b6b38a"/><stop offset="0.266" stop-color="#afb087"/><stop offset="0.281" stop-color="#a8ae84"/><stop offset="0.297" stop-color="#a1ac82"/><stop offset="0.312" stop-color="#9aab80"/><stop offset="0.328" stop-color="#95aa7e"/><stop offset="0.344" stop-color="#90a87c"/><stop offset="0.359" stop-color="#88a47a"/><stop offset="0.375" stop-color="#80a177"/><stop offset="0.391" stop-color="#789e76"/><stop offset="0.406" stop-color="#709c74"/><stop offset="0.422" stop-color="#679a72"/><stop offset="0.438" stop-color="#5e9871"/><stop offset="0.453" stop-color="#569572"/><stop offset="0.469" stop-color="#4f9372"/><stop offset="0.484" stop-color="#449071"/><stop offset="0.500" stop-color="#3a8d70"/><stop offset="0.516" stop-color="#328b70"/><stop offset="0.531" stop-color="#2a8870"/><stop offset="0.547" stop-color="#248570"/><stop offset="0.562" stop-color="#1d8370"/><stop offset="0.578" stop-color="#188270"/><stop offset="0.594" stop-color="#12806f"/><stop offset="0.609" stop-color="#0c7d6f"/><stop offset="0.625" stop-color="#077a6f"/><stop offset="0.641" stop-color="#05756e"/><stop offset="0.656" stop-color="#036f6d"/><stop offset="0.672" stop-color="#046c6c"/><stop offset="0.688" stop-color="#04696b"/><stop offset="0.703" stop-color="#08646a"/><stop offset="0.719" stop-color="#0d5f69"/><stop offset="0.734" stop-color="#125c68"/><stop offset="0.750" stop-color="#165867"/><stop offset="0.766" stop-color="#195365"/><stop offset="0.781" stop-color="#1c4e62"/><stop offset="0.797" stop-color="#1e4c60"/><stop offset="0.812" stop-color="#214a5e"/><stop offset="0.828" stop-color="#23465c"/><stop offset="0.844" stop-color="#25435a"/><stop offset="0.859" stop-color="#263f58"/><stop offset="0.875" stop-color="#263a56"/><stop offset="0.891" stop-color="#263652"/><stop offset="0.906" stop-color="#26314f"/><stop offset="0.922" stop-color="#262c4c"/><stop offset="0.938" stop-color="#252848"/><stop offset="0.953" stop-color="#242444"/><stop offset="0.969" stop-color="#241f40"/><stop offset="0.984" stop-color="#231c3e"/><stop offset="1.000" stop-color="#221a3b"/></linearGradient></defs><rect x="406.5" y="605.5" width="800.00" height="30.00" fill="url(#cb)" stroke="#000" stroke-width="1.2"/><path d="M406.50,635.50V657.5M531.50,635.50V657.5M656.50,635.50V657.5M781.50,635.50V657.5M906.50,635.50V657.5M1031.50,635.50V657.5M1156.50,635.50V657.5" stroke="#000" stroke-width="1.1"/><g font-family="Liberation Sans, sans-serif" style="font-kerning:none"><text x="748.03" y="31.90" font-size="29.40" textLength="113.57" lengthAdjust="spacingAndGlyphs" fill="#000">Jul 2008</text><text x="236.78" y="60.70" font-size="25.70" textLength="73.42" lengthAdjust="spacingAndGlyphs" fill="#000">CIOFS</text><text x="758.73" y="60.80" font-size="25.70" textLength="98.12" lengthAdjust="spacingAndGlyphs" fill="#000">NWGOA</text><text x="1250.53" y="60.80" font-size="25.70" textLength="181.31" lengthAdjust="spacingAndGlyphs" fill="#000">CIOFS-NWGOA</text><text x="267.01" y="83.70" font-size="19.80" textLength="14.48" lengthAdjust="spacingAndGlyphs" fill="#000">N</text><text x="267.82" y="591.50" font-size="19.80" textLength="12.17" lengthAdjust="spacingAndGlyphs" fill="#000">S</text><text x="11.77" y="338.00" font-size="19.80" textLength="17.55" lengthAdjust="spacingAndGlyphs" fill="#000">W</text><text x="522.01" y="338.00" font-size="19.80" textLength="11.69" lengthAdjust="spacingAndGlyphs" fill="#000">E</text><text x="337.14" y="302.00" font-size="20.00" textLength="11.74" lengthAdjust="spacingAndGlyphs" fill="#000" stroke="#fff" stroke-width="3" stroke-linejoin="round" paint-order="stroke">1</text><text x="399.42" y="275.90" font-size="20.00" textLength="12.45" lengthAdjust="spacingAndGlyphs" fill="#000" stroke="#fff" stroke-width="3" stroke-linejoin="round" paint-order="stroke">2</text><text x="462.71" y="250.20" font-size="20.00" textLength="12.32" lengthAdjust="spacingAndGlyphs" fill="#000" stroke="#fff" stroke-width="3" stroke-linejoin="round" paint-order="stroke">3</text><text x="801.12" y="83.70" font-size="19.80" textLength="14.48" lengthAdjust="spacingAndGlyphs" fill="#000">N</text><text x="801.93" y="591.50" font-size="19.80" textLength="12.17" lengthAdjust="spacingAndGlyphs" fill="#000">S</text><text x="545.88" y="338.00" font-size="19.80" textLength="17.55" lengthAdjust="spacingAndGlyphs" fill="#000">W</text><text x="1056.12" y="338.00" font-size="19.80" textLength="11.69" lengthAdjust="spacingAndGlyphs" fill="#000">E</text><text x="871.25" y="302.00" font-size="20.00" textLength="11.74" lengthAdjust="spacingAndGlyphs" fill="#000" stroke="#fff" stroke-width="3" stroke-linejoin="round" paint-order="stroke">1</text><text x="933.53" y="275.90" font-size="20.00" textLength="12.45" lengthAdjust="spacingAndGlyphs" fill="#000" stroke="#fff" stroke-width="3" stroke-linejoin="round" paint-order="stroke">2</text><text x="996.82" y="250.20" font-size="20.00" textLength="12.32" lengthAdjust="spacingAndGlyphs" fill="#000" stroke="#fff" stroke-width="3" stroke-linejoin="round" paint-order="stroke">3</text><text x="1335.36" y="83.70" font-size="19.80" textLength="14.48" lengthAdjust="spacingAndGlyphs" fill="#000">N</text><text x="1336.17" y="591.50" font-size="19.80" textLength="12.17" lengthAdjust="spacingAndGlyphs" fill="#000">S</text><text x="1080.12" y="338.00" font-size="19.80" textLength="17.55" lengthAdjust="spacingAndGlyphs" fill="#000">W</text><text x="1590.36" y="338.00" font-size="19.80" textLength="11.69" lengthAdjust="spacingAndGlyphs" fill="#000">E</text><text x="1405.49" y="302.00" font-size="20.00" textLength="11.74" lengthAdjust="spacingAndGlyphs" fill="#000" stroke="#fff" stroke-width="3" stroke-linejoin="round" paint-order="stroke">1</text><text x="1467.77" y="275.90" font-size="20.00" textLength="12.45" lengthAdjust="spacingAndGlyphs" fill="#000" stroke="#fff" stroke-width="3" stroke-linejoin="round" paint-order="stroke">2</text><text x="1531.06" y="250.20" font-size="20.00" textLength="12.32" lengthAdjust="spacingAndGlyphs" fill="#000" stroke="#fff" stroke-width="3" stroke-linejoin="round" paint-order="stroke">3</text><text x="399.05" y="680.40" font-size="23.30" textLength="14.89" lengthAdjust="spacingAndGlyphs" fill="#000">0</text><text x="517.09" y="680.40" font-size="23.30" textLength="27.89" lengthAdjust="spacingAndGlyphs" fill="#000">10</text><text x="642.77" y="680.40" font-size="23.30" textLength="27.18" lengthAdjust="spacingAndGlyphs" fill="#000">20</text><text x="768.08" y="680.40" font-size="23.30" textLength="26.86" lengthAdjust="spacingAndGlyphs" fill="#000">30</text><text x="893.45" y="680.40" font-size="23.30" textLength="26.48" lengthAdjust="spacingAndGlyphs" fill="#000">40</text><text x="1018.03" y="680.40" font-size="23.30" textLength="26.91" lengthAdjust="spacingAndGlyphs" fill="#000">50</text><text x="1142.76" y="680.40" font-size="23.30" textLength="27.20" lengthAdjust="spacingAndGlyphs" fill="#000">60</text><text x="522.82" y="708.60" font-size="24.00" textLength="565.09" lengthAdjust="spacingAndGlyphs" fill="#000">Currents [m/s] at COI0303; number of occurrences</text></g></svg></body></html>
